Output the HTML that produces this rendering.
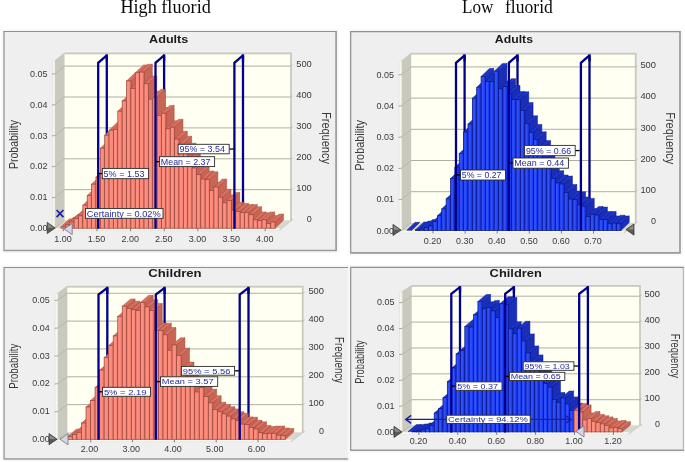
<!DOCTYPE html>
<html lang="en"><head><meta charset="utf-8"><title>Fluoride exposure histograms</title>
<style>
html,body{margin:0;padding:0;background:#fff;}
body{width:685px;height:462px;overflow:hidden;}
svg text{white-space:pre;}
svg{filter:blur(0.35px);}
</style></head><body>
<svg width="685" height="462" viewBox="0 0 685 462" style="display:block">
<rect width="685" height="462" fill="#ffffff"/>
<text x="165.60" y="13.40" font-size="18" text-anchor="middle" fill="#0a0a0a" font-family="'Liberation Serif', 'Times New Roman', serif" textLength="90.4" lengthAdjust="spacingAndGlyphs">High fluorid</text>
<text x="462.10" y="13.40" font-size="18" text-anchor="start" fill="#0a0a0a" font-family="'Liberation Serif', 'Times New Roman', serif" textLength="31.4" lengthAdjust="spacingAndGlyphs">Low</text>
<text x="505.00" y="13.40" font-size="18" text-anchor="start" fill="#0a0a0a" font-family="'Liberation Serif', 'Times New Roman', serif" textLength="47.8" lengthAdjust="spacingAndGlyphs">fluorid</text>
<rect x="1.50" y="29.00" width="337.30" height="224.00" fill="#f8f8f8"/>
<rect x="4.00" y="31.50" width="332.30" height="219.00" fill="#efefef"/>
<line x1="3.50" y1="31.50" x2="336.80" y2="31.50" stroke="#8e8e8e" stroke-width="1.2"/>
<line x1="4.00" y1="31.50" x2="4.00" y2="250.50" stroke="#8e8e8e" stroke-width="1.2"/>
<line x1="3.50" y1="250.50" x2="336.80" y2="250.50" stroke="#9a9a9a" stroke-width="1.6"/>
<line x1="336.10" y1="31.50" x2="336.10" y2="250.50" stroke="#9a9a9a" stroke-width="1.7"/>
<rect x="64.40" y="52.50" width="227.50" height="168.10" fill="#c9c9bd"/>
<rect x="64.40" y="54.30" width="225.70" height="166.30" fill="#fffff2"/>
<polygon points="64.40,52.50 64.40,220.60 55.00,228.30 55.00,60.20" fill="#c9c9bf"/>
<polygon points="55.00,60.20 55.00,228.30 52.30,230.60 52.30,62.50" fill="#f7f7ee" stroke="#d4d4c8" stroke-width="0.4" stroke-linejoin="round"/>
<polygon points="64.40,52.50 55.00,60.20 52.30,62.50 62.50,53.70" fill="#dcdcd2"/>
<polygon points="64.40,220.60 290.70,220.60 281.30,228.30 55.00,228.30" fill="#d6d6cc"/>
<polygon points="55.00,228.30 281.30,228.30 278.60,230.60 52.30,230.60" fill="#fafaf2" stroke="#d8d8cc" stroke-width="0.4" stroke-linejoin="round"/>
<polygon points="290.70,220.60 291.90,220.60 279.80,230.60 278.60,230.60 281.30,228.30" fill="#c6c6ba"/>
<line x1="64.40" y1="220.60" x2="55.00" y2="228.30" stroke="#b4b4a8" stroke-width="0.9"/>
<line x1="55.00" y1="228.30" x2="51.80" y2="228.60" stroke="#a0a096" stroke-width="0.9"/>
<text x="47.50" y="231.21" font-size="9" text-anchor="end" fill="#3a3a3a" font-family="'Liberation Sans', Arial, sans-serif" textLength="17.5" lengthAdjust="spacingAndGlyphs">0.00</text>
<text x="311.80" y="221.80" font-size="9" text-anchor="end" fill="#3a3a3a" font-family="'Liberation Sans', Arial, sans-serif" textLength="5.0" lengthAdjust="spacingAndGlyphs">0</text>
<line x1="290.70" y1="220.60" x2="292.90" y2="219.40" stroke="#b8b8ac" stroke-width="0.8"/>
<line x1="64.40" y1="189.70" x2="290.70" y2="189.70" stroke="#aeaea2" stroke-width="1"/>
<line x1="64.40" y1="189.70" x2="55.00" y2="197.40" stroke="#b4b4a8" stroke-width="0.9"/>
<line x1="55.00" y1="197.40" x2="51.80" y2="197.70" stroke="#a0a096" stroke-width="0.9"/>
<text x="47.50" y="200.31" font-size="9" text-anchor="end" fill="#3a3a3a" font-family="'Liberation Sans', Arial, sans-serif" textLength="17.5" lengthAdjust="spacingAndGlyphs">0.01</text>
<text x="311.80" y="190.90" font-size="9" text-anchor="end" fill="#3a3a3a" font-family="'Liberation Sans', Arial, sans-serif" textLength="15.6" lengthAdjust="spacingAndGlyphs">100</text>
<line x1="290.70" y1="189.70" x2="292.90" y2="188.50" stroke="#b8b8ac" stroke-width="0.8"/>
<line x1="64.40" y1="158.80" x2="290.70" y2="158.80" stroke="#aeaea2" stroke-width="1"/>
<line x1="64.40" y1="158.80" x2="55.00" y2="166.50" stroke="#b4b4a8" stroke-width="0.9"/>
<line x1="55.00" y1="166.50" x2="51.80" y2="166.80" stroke="#a0a096" stroke-width="0.9"/>
<text x="47.50" y="169.41" font-size="9" text-anchor="end" fill="#3a3a3a" font-family="'Liberation Sans', Arial, sans-serif" textLength="17.5" lengthAdjust="spacingAndGlyphs">0.02</text>
<text x="311.80" y="160.00" font-size="9" text-anchor="end" fill="#3a3a3a" font-family="'Liberation Sans', Arial, sans-serif" textLength="15.6" lengthAdjust="spacingAndGlyphs">200</text>
<line x1="290.70" y1="158.80" x2="292.90" y2="157.60" stroke="#b8b8ac" stroke-width="0.8"/>
<line x1="64.40" y1="127.90" x2="290.70" y2="127.90" stroke="#aeaea2" stroke-width="1"/>
<line x1="64.40" y1="127.90" x2="55.00" y2="135.60" stroke="#b4b4a8" stroke-width="0.9"/>
<line x1="55.00" y1="135.60" x2="51.80" y2="135.90" stroke="#a0a096" stroke-width="0.9"/>
<text x="47.50" y="138.51" font-size="9" text-anchor="end" fill="#3a3a3a" font-family="'Liberation Sans', Arial, sans-serif" textLength="17.5" lengthAdjust="spacingAndGlyphs">0.03</text>
<text x="311.80" y="129.10" font-size="9" text-anchor="end" fill="#3a3a3a" font-family="'Liberation Sans', Arial, sans-serif" textLength="15.6" lengthAdjust="spacingAndGlyphs">300</text>
<line x1="290.70" y1="127.90" x2="292.90" y2="126.70" stroke="#b8b8ac" stroke-width="0.8"/>
<line x1="64.40" y1="97.00" x2="290.70" y2="97.00" stroke="#aeaea2" stroke-width="1"/>
<line x1="64.40" y1="97.00" x2="55.00" y2="104.70" stroke="#b4b4a8" stroke-width="0.9"/>
<line x1="55.00" y1="104.70" x2="51.80" y2="105.00" stroke="#a0a096" stroke-width="0.9"/>
<text x="47.50" y="107.61" font-size="9" text-anchor="end" fill="#3a3a3a" font-family="'Liberation Sans', Arial, sans-serif" textLength="17.5" lengthAdjust="spacingAndGlyphs">0.04</text>
<text x="311.80" y="98.20" font-size="9" text-anchor="end" fill="#3a3a3a" font-family="'Liberation Sans', Arial, sans-serif" textLength="15.6" lengthAdjust="spacingAndGlyphs">400</text>
<line x1="290.70" y1="97.00" x2="292.90" y2="95.80" stroke="#b8b8ac" stroke-width="0.8"/>
<line x1="64.40" y1="66.10" x2="290.70" y2="66.10" stroke="#aeaea2" stroke-width="1"/>
<line x1="64.40" y1="66.10" x2="55.00" y2="73.80" stroke="#b4b4a8" stroke-width="0.9"/>
<line x1="55.00" y1="73.80" x2="51.80" y2="74.10" stroke="#a0a096" stroke-width="0.9"/>
<text x="47.50" y="76.71" font-size="9" text-anchor="end" fill="#3a3a3a" font-family="'Liberation Sans', Arial, sans-serif" textLength="17.5" lengthAdjust="spacingAndGlyphs">0.05</text>
<text x="311.80" y="67.30" font-size="9" text-anchor="end" fill="#3a3a3a" font-family="'Liberation Sans', Arial, sans-serif" textLength="15.6" lengthAdjust="spacingAndGlyphs">500</text>
<line x1="290.70" y1="66.10" x2="292.90" y2="64.90" stroke="#b8b8ac" stroke-width="0.8"/>
<line x1="63.30" y1="228.40" x2="63.30" y2="231.20" stroke="#707070" stroke-width="0.9"/>
<text x="62.90" y="241.80" font-size="9" text-anchor="middle" fill="#3a3a3a" font-family="'Liberation Sans', Arial, sans-serif" textLength="17.5" lengthAdjust="spacingAndGlyphs">1.00</text>
<line x1="96.95" y1="228.40" x2="96.95" y2="231.20" stroke="#707070" stroke-width="0.9"/>
<text x="96.55" y="241.80" font-size="9" text-anchor="middle" fill="#3a3a3a" font-family="'Liberation Sans', Arial, sans-serif" textLength="17.5" lengthAdjust="spacingAndGlyphs">1.50</text>
<line x1="130.60" y1="228.40" x2="130.60" y2="231.20" stroke="#707070" stroke-width="0.9"/>
<text x="130.20" y="241.80" font-size="9" text-anchor="middle" fill="#3a3a3a" font-family="'Liberation Sans', Arial, sans-serif" textLength="17.5" lengthAdjust="spacingAndGlyphs">2.00</text>
<line x1="164.25" y1="228.40" x2="164.25" y2="231.20" stroke="#707070" stroke-width="0.9"/>
<text x="163.85" y="241.80" font-size="9" text-anchor="middle" fill="#3a3a3a" font-family="'Liberation Sans', Arial, sans-serif" textLength="17.5" lengthAdjust="spacingAndGlyphs">2.50</text>
<line x1="197.90" y1="228.40" x2="197.90" y2="231.20" stroke="#707070" stroke-width="0.9"/>
<text x="197.50" y="241.80" font-size="9" text-anchor="middle" fill="#3a3a3a" font-family="'Liberation Sans', Arial, sans-serif" textLength="17.5" lengthAdjust="spacingAndGlyphs">3.00</text>
<line x1="231.55" y1="228.40" x2="231.55" y2="231.20" stroke="#707070" stroke-width="0.9"/>
<text x="231.15" y="241.80" font-size="9" text-anchor="middle" fill="#3a3a3a" font-family="'Liberation Sans', Arial, sans-serif" textLength="17.5" lengthAdjust="spacingAndGlyphs">3.50</text>
<line x1="265.20" y1="228.40" x2="265.20" y2="231.20" stroke="#707070" stroke-width="0.9"/>
<text x="264.80" y="241.80" font-size="9" text-anchor="middle" fill="#3a3a3a" font-family="'Liberation Sans', Arial, sans-serif" textLength="17.5" lengthAdjust="spacingAndGlyphs">4.00</text>
<line x1="106.80" y1="55.40" x2="106.80" y2="220.80" stroke="#00008c" stroke-width="2.3"/>
<line x1="164.10" y1="55.40" x2="164.10" y2="220.80" stroke="#00008c" stroke-width="2.3"/>
<line x1="243.00" y1="55.40" x2="243.00" y2="220.80" stroke="#00008c" stroke-width="2.3"/>
<polygon points="65.37,226.80 73.67,218.90 73.67,220.30 65.37,228.20" fill="#c86656" stroke="#9c4a40" stroke-width="0.5" stroke-linejoin="round"/>
<polygon points="61.00,226.80 65.37,226.80 73.67,218.90 69.30,218.90" fill="#d9705f" stroke="#9c4a40" stroke-width="0.45" stroke-linejoin="round"/>
<rect x="61.00" y="226.80" width="4.37" height="1.40" fill="#fa8474" stroke="#9c4a40" stroke-width="0.75"/>
<rect x="61.60" y="227.20" width="1.97" height="0.80" fill="#ffffff" opacity="0.10"/>
<polygon points="69.74,225.00 78.04,217.10 78.04,220.30 69.74,228.20" fill="#c86656" stroke="#9c4a40" stroke-width="0.5" stroke-linejoin="round"/>
<polygon points="65.37,225.00 69.74,225.00 78.04,217.10 73.67,217.10" fill="#d9705f" stroke="#9c4a40" stroke-width="0.45" stroke-linejoin="round"/>
<rect x="65.37" y="225.00" width="4.37" height="3.20" fill="#fa8474" stroke="#9c4a40" stroke-width="0.75"/>
<rect x="65.97" y="225.40" width="1.97" height="2.60" fill="#ffffff" opacity="0.10"/>
<polygon points="74.11,222.00 82.41,214.10 82.41,220.30 74.11,228.20" fill="#c86656" stroke="#9c4a40" stroke-width="0.5" stroke-linejoin="round"/>
<polygon points="69.74,222.00 74.11,222.00 82.41,214.10 78.04,214.10" fill="#d9705f" stroke="#9c4a40" stroke-width="0.45" stroke-linejoin="round"/>
<rect x="69.74" y="222.00" width="4.37" height="6.20" fill="#fa8474" stroke="#9c4a40" stroke-width="0.75"/>
<rect x="70.34" y="222.40" width="1.97" height="5.60" fill="#ffffff" opacity="0.10"/>
<polygon points="78.48,218.50 86.78,210.60 86.78,220.30 78.48,228.20" fill="#c86656" stroke="#9c4a40" stroke-width="0.5" stroke-linejoin="round"/>
<polygon points="74.11,218.50 78.48,218.50 86.78,210.60 82.41,210.60" fill="#d9705f" stroke="#9c4a40" stroke-width="0.45" stroke-linejoin="round"/>
<rect x="74.11" y="218.50" width="4.37" height="9.70" fill="#fa8474" stroke="#9c4a40" stroke-width="0.75"/>
<rect x="74.71" y="218.90" width="1.97" height="9.10" fill="#ffffff" opacity="0.10"/>
<polygon points="82.85,215.80 91.15,207.90 91.15,220.30 82.85,228.20" fill="#c86656" stroke="#9c4a40" stroke-width="0.5" stroke-linejoin="round"/>
<polygon points="78.48,215.80 82.85,215.80 91.15,207.90 86.78,207.90" fill="#d9705f" stroke="#9c4a40" stroke-width="0.45" stroke-linejoin="round"/>
<rect x="78.48" y="215.80" width="4.37" height="12.40" fill="#fa8474" stroke="#9c4a40" stroke-width="0.75"/>
<rect x="79.08" y="216.20" width="1.97" height="11.80" fill="#ffffff" opacity="0.10"/>
<polygon points="87.22,205.20 95.52,197.30 95.52,220.30 87.22,228.20" fill="#c86656" stroke="#9c4a40" stroke-width="0.5" stroke-linejoin="round"/>
<polygon points="82.85,205.20 87.22,205.20 95.52,197.30 91.15,197.30" fill="#d9705f" stroke="#9c4a40" stroke-width="0.45" stroke-linejoin="round"/>
<rect x="82.85" y="205.20" width="4.37" height="23.00" fill="#fa8474" stroke="#9c4a40" stroke-width="0.75"/>
<rect x="83.45" y="205.60" width="1.97" height="22.40" fill="#ffffff" opacity="0.10"/>
<polygon points="91.59,195.60 99.89,187.70 99.89,220.30 91.59,228.20" fill="#c86656" stroke="#9c4a40" stroke-width="0.5" stroke-linejoin="round"/>
<polygon points="87.22,195.60 91.59,195.60 99.89,187.70 95.52,187.70" fill="#d9705f" stroke="#9c4a40" stroke-width="0.45" stroke-linejoin="round"/>
<rect x="87.22" y="195.60" width="4.37" height="32.60" fill="#fa8474" stroke="#9c4a40" stroke-width="0.75"/>
<rect x="87.82" y="196.00" width="1.97" height="32.00" fill="#ffffff" opacity="0.10"/>
<polygon points="95.96,184.20 104.26,176.30 104.26,220.30 95.96,228.20" fill="#c86656" stroke="#9c4a40" stroke-width="0.5" stroke-linejoin="round"/>
<polygon points="91.59,184.20 95.96,184.20 104.26,176.30 99.89,176.30" fill="#d9705f" stroke="#9c4a40" stroke-width="0.45" stroke-linejoin="round"/>
<rect x="91.59" y="184.20" width="4.37" height="44.00" fill="#fa8474" stroke="#9c4a40" stroke-width="0.75"/>
<rect x="92.19" y="184.60" width="1.97" height="43.40" fill="#ffffff" opacity="0.10"/>
<polygon points="100.33,177.20 108.63,169.30 108.63,220.30 100.33,228.20" fill="#c86656" stroke="#9c4a40" stroke-width="0.5" stroke-linejoin="round"/>
<polygon points="95.96,177.20 100.33,177.20 108.63,169.30 104.26,169.30" fill="#d9705f" stroke="#9c4a40" stroke-width="0.45" stroke-linejoin="round"/>
<rect x="95.96" y="177.20" width="4.37" height="51.00" fill="#fa8474" stroke="#9c4a40" stroke-width="0.75"/>
<rect x="96.56" y="177.60" width="1.97" height="50.40" fill="#ffffff" opacity="0.10"/>
<polygon points="104.70,148.20 113.00,140.30 113.00,220.30 104.70,228.20" fill="#c86656" stroke="#9c4a40" stroke-width="0.5" stroke-linejoin="round"/>
<polygon points="100.33,148.20 104.70,148.20 113.00,140.30 108.63,140.30" fill="#d9705f" stroke="#9c4a40" stroke-width="0.45" stroke-linejoin="round"/>
<rect x="100.33" y="148.20" width="4.37" height="80.00" fill="#fa8474" stroke="#9c4a40" stroke-width="0.75"/>
<rect x="100.93" y="148.60" width="1.97" height="79.40" fill="#ffffff" opacity="0.10"/>
<polygon points="109.07,135.20 117.37,127.30 117.37,220.30 109.07,228.20" fill="#c86656" stroke="#9c4a40" stroke-width="0.5" stroke-linejoin="round"/>
<polygon points="104.70,135.20 109.07,135.20 117.37,127.30 113.00,127.30" fill="#d9705f" stroke="#9c4a40" stroke-width="0.45" stroke-linejoin="round"/>
<rect x="104.70" y="135.20" width="4.37" height="93.00" fill="#fa8474" stroke="#9c4a40" stroke-width="0.75"/>
<rect x="105.30" y="135.60" width="1.97" height="92.40" fill="#ffffff" opacity="0.10"/>
<polygon points="113.44,130.20 121.74,122.30 121.74,220.30 113.44,228.20" fill="#c86656" stroke="#9c4a40" stroke-width="0.5" stroke-linejoin="round"/>
<polygon points="109.07,130.20 113.44,130.20 121.74,122.30 117.37,122.30" fill="#d9705f" stroke="#9c4a40" stroke-width="0.45" stroke-linejoin="round"/>
<rect x="109.07" y="130.20" width="4.37" height="98.00" fill="#fa8474" stroke="#9c4a40" stroke-width="0.75"/>
<rect x="109.67" y="130.60" width="1.97" height="97.40" fill="#ffffff" opacity="0.10"/>
<polygon points="117.81,129.40 126.11,121.50 126.11,220.30 117.81,228.20" fill="#c86656" stroke="#9c4a40" stroke-width="0.5" stroke-linejoin="round"/>
<polygon points="113.44,129.40 117.81,129.40 126.11,121.50 121.74,121.50" fill="#d9705f" stroke="#9c4a40" stroke-width="0.45" stroke-linejoin="round"/>
<rect x="113.44" y="129.40" width="4.37" height="98.80" fill="#fa8474" stroke="#9c4a40" stroke-width="0.75"/>
<rect x="114.04" y="129.80" width="1.97" height="98.20" fill="#ffffff" opacity="0.10"/>
<polygon points="122.18,111.20 130.48,103.30 130.48,220.30 122.18,228.20" fill="#c86656" stroke="#9c4a40" stroke-width="0.5" stroke-linejoin="round"/>
<polygon points="117.81,111.20 122.18,111.20 130.48,103.30 126.11,103.30" fill="#d9705f" stroke="#9c4a40" stroke-width="0.45" stroke-linejoin="round"/>
<rect x="117.81" y="111.20" width="4.37" height="117.00" fill="#fa8474" stroke="#9c4a40" stroke-width="0.75"/>
<rect x="118.41" y="111.60" width="1.97" height="116.40" fill="#ffffff" opacity="0.10"/>
<polygon points="126.55,100.90 134.85,93.00 134.85,220.30 126.55,228.20" fill="#c86656" stroke="#9c4a40" stroke-width="0.5" stroke-linejoin="round"/>
<polygon points="122.18,100.90 126.55,100.90 134.85,93.00 130.48,93.00" fill="#d9705f" stroke="#9c4a40" stroke-width="0.45" stroke-linejoin="round"/>
<rect x="122.18" y="100.90" width="4.37" height="127.30" fill="#fa8474" stroke="#9c4a40" stroke-width="0.75"/>
<rect x="122.78" y="101.30" width="1.97" height="126.70" fill="#ffffff" opacity="0.10"/>
<polygon points="130.92,80.90 139.22,73.00 139.22,220.30 130.92,228.20" fill="#c86656" stroke="#9c4a40" stroke-width="0.5" stroke-linejoin="round"/>
<polygon points="126.55,80.90 130.92,80.90 139.22,73.00 134.85,73.00" fill="#d9705f" stroke="#9c4a40" stroke-width="0.45" stroke-linejoin="round"/>
<rect x="126.55" y="80.90" width="4.37" height="147.30" fill="#fa8474" stroke="#9c4a40" stroke-width="0.75"/>
<rect x="127.15" y="81.30" width="1.97" height="146.70" fill="#ffffff" opacity="0.10"/>
<polygon points="135.29,88.40 143.59,80.50 143.59,220.30 135.29,228.20" fill="#c86656" stroke="#9c4a40" stroke-width="0.5" stroke-linejoin="round"/>
<polygon points="130.92,88.40 135.29,88.40 143.59,80.50 139.22,80.50" fill="#d9705f" stroke="#9c4a40" stroke-width="0.45" stroke-linejoin="round"/>
<rect x="130.92" y="88.40" width="4.37" height="139.80" fill="#fa8474" stroke="#9c4a40" stroke-width="0.75"/>
<rect x="131.52" y="88.80" width="1.97" height="139.20" fill="#ffffff" opacity="0.10"/>
<polygon points="139.66,72.80 147.96,64.90 147.96,220.30 139.66,228.20" fill="#c86656" stroke="#9c4a40" stroke-width="0.5" stroke-linejoin="round"/>
<polygon points="135.29,72.80 139.66,72.80 147.96,64.90 143.59,64.90" fill="#d9705f" stroke="#9c4a40" stroke-width="0.45" stroke-linejoin="round"/>
<rect x="135.29" y="72.80" width="4.37" height="155.40" fill="#fa8474" stroke="#9c4a40" stroke-width="0.75"/>
<rect x="135.89" y="73.20" width="1.97" height="154.80" fill="#ffffff" opacity="0.10"/>
<polygon points="144.03,72.10 152.33,64.20 152.33,220.30 144.03,228.20" fill="#c86656" stroke="#9c4a40" stroke-width="0.5" stroke-linejoin="round"/>
<polygon points="139.66,72.10 144.03,72.10 152.33,64.20 147.96,64.20" fill="#d9705f" stroke="#9c4a40" stroke-width="0.45" stroke-linejoin="round"/>
<rect x="139.66" y="72.10" width="4.37" height="156.10" fill="#fa8474" stroke="#9c4a40" stroke-width="0.75"/>
<rect x="140.26" y="72.50" width="1.97" height="155.50" fill="#ffffff" opacity="0.10"/>
<polygon points="148.40,83.80 156.70,75.90 156.70,220.30 148.40,228.20" fill="#c86656" stroke="#9c4a40" stroke-width="0.5" stroke-linejoin="round"/>
<polygon points="144.03,83.80 148.40,83.80 156.70,75.90 152.33,75.90" fill="#d9705f" stroke="#9c4a40" stroke-width="0.45" stroke-linejoin="round"/>
<rect x="144.03" y="83.80" width="4.37" height="144.40" fill="#fa8474" stroke="#9c4a40" stroke-width="0.75"/>
<rect x="144.63" y="84.20" width="1.97" height="143.80" fill="#ffffff" opacity="0.10"/>
<polygon points="152.77,99.10 161.07,91.20 161.07,220.30 152.77,228.20" fill="#c86656" stroke="#9c4a40" stroke-width="0.5" stroke-linejoin="round"/>
<polygon points="148.40,99.10 152.77,99.10 161.07,91.20 156.70,91.20" fill="#d9705f" stroke="#9c4a40" stroke-width="0.45" stroke-linejoin="round"/>
<rect x="148.40" y="99.10" width="4.37" height="129.10" fill="#fa8474" stroke="#9c4a40" stroke-width="0.75"/>
<rect x="149.00" y="99.50" width="1.97" height="128.50" fill="#ffffff" opacity="0.10"/>
<polygon points="157.14,97.20 165.44,89.30 165.44,220.30 157.14,228.20" fill="#c86656" stroke="#9c4a40" stroke-width="0.5" stroke-linejoin="round"/>
<polygon points="152.77,97.20 157.14,97.20 165.44,89.30 161.07,89.30" fill="#d9705f" stroke="#9c4a40" stroke-width="0.45" stroke-linejoin="round"/>
<rect x="152.77" y="97.20" width="4.37" height="131.00" fill="#fa8474" stroke="#9c4a40" stroke-width="0.75"/>
<rect x="153.37" y="97.60" width="1.97" height="130.40" fill="#ffffff" opacity="0.10"/>
<polygon points="161.51,115.50 169.81,107.60 169.81,220.30 161.51,228.20" fill="#c86656" stroke="#9c4a40" stroke-width="0.5" stroke-linejoin="round"/>
<polygon points="157.14,115.50 161.51,115.50 169.81,107.60 165.44,107.60" fill="#d9705f" stroke="#9c4a40" stroke-width="0.45" stroke-linejoin="round"/>
<rect x="157.14" y="115.50" width="4.37" height="112.70" fill="#fa8474" stroke="#9c4a40" stroke-width="0.75"/>
<rect x="157.74" y="115.90" width="1.97" height="112.10" fill="#ffffff" opacity="0.10"/>
<polygon points="165.88,113.30 174.18,105.40 174.18,220.30 165.88,228.20" fill="#c86656" stroke="#9c4a40" stroke-width="0.5" stroke-linejoin="round"/>
<polygon points="161.51,113.30 165.88,113.30 174.18,105.40 169.81,105.40" fill="#d9705f" stroke="#9c4a40" stroke-width="0.45" stroke-linejoin="round"/>
<rect x="161.51" y="113.30" width="4.37" height="114.90" fill="#fa8474" stroke="#9c4a40" stroke-width="0.75"/>
<rect x="162.11" y="113.70" width="1.97" height="114.30" fill="#ffffff" opacity="0.10"/>
<polygon points="170.25,128.70 178.55,120.80 178.55,220.30 170.25,228.20" fill="#c86656" stroke="#9c4a40" stroke-width="0.5" stroke-linejoin="round"/>
<polygon points="165.88,128.70 170.25,128.70 178.55,120.80 174.18,120.80" fill="#d9705f" stroke="#9c4a40" stroke-width="0.45" stroke-linejoin="round"/>
<rect x="165.88" y="128.70" width="4.37" height="99.50" fill="#fa8474" stroke="#9c4a40" stroke-width="0.75"/>
<rect x="166.48" y="129.10" width="1.97" height="98.90" fill="#ffffff" opacity="0.10"/>
<polygon points="174.62,127.20 182.92,119.30 182.92,220.30 174.62,228.20" fill="#c86656" stroke="#9c4a40" stroke-width="0.5" stroke-linejoin="round"/>
<polygon points="170.25,127.20 174.62,127.20 182.92,119.30 178.55,119.30" fill="#d9705f" stroke="#9c4a40" stroke-width="0.45" stroke-linejoin="round"/>
<rect x="170.25" y="127.20" width="4.37" height="101.00" fill="#fa8474" stroke="#9c4a40" stroke-width="0.75"/>
<rect x="170.85" y="127.60" width="1.97" height="100.40" fill="#ffffff" opacity="0.10"/>
<polygon points="178.99,139.20 187.29,131.30 187.29,220.30 178.99,228.20" fill="#c86656" stroke="#9c4a40" stroke-width="0.5" stroke-linejoin="round"/>
<polygon points="174.62,139.20 178.99,139.20 187.29,131.30 182.92,131.30" fill="#d9705f" stroke="#9c4a40" stroke-width="0.45" stroke-linejoin="round"/>
<rect x="174.62" y="139.20" width="4.37" height="89.00" fill="#fa8474" stroke="#9c4a40" stroke-width="0.75"/>
<rect x="175.22" y="139.60" width="1.97" height="88.40" fill="#ffffff" opacity="0.10"/>
<polygon points="183.36,144.20 191.66,136.30 191.66,220.30 183.36,228.20" fill="#c86656" stroke="#9c4a40" stroke-width="0.5" stroke-linejoin="round"/>
<polygon points="178.99,144.20 183.36,144.20 191.66,136.30 187.29,136.30" fill="#d9705f" stroke="#9c4a40" stroke-width="0.45" stroke-linejoin="round"/>
<rect x="178.99" y="144.20" width="4.37" height="84.00" fill="#fa8474" stroke="#9c4a40" stroke-width="0.75"/>
<rect x="179.59" y="144.60" width="1.97" height="83.40" fill="#ffffff" opacity="0.10"/>
<polygon points="187.73,151.20 196.03,143.30 196.03,220.30 187.73,228.20" fill="#c86656" stroke="#9c4a40" stroke-width="0.5" stroke-linejoin="round"/>
<polygon points="183.36,151.20 187.73,151.20 196.03,143.30 191.66,143.30" fill="#d9705f" stroke="#9c4a40" stroke-width="0.45" stroke-linejoin="round"/>
<rect x="183.36" y="151.20" width="4.37" height="77.00" fill="#fa8474" stroke="#9c4a40" stroke-width="0.75"/>
<rect x="183.96" y="151.60" width="1.97" height="76.40" fill="#ffffff" opacity="0.10"/>
<polygon points="192.10,160.20 200.40,152.30 200.40,220.30 192.10,228.20" fill="#c86656" stroke="#9c4a40" stroke-width="0.5" stroke-linejoin="round"/>
<polygon points="187.73,160.20 192.10,160.20 200.40,152.30 196.03,152.30" fill="#d9705f" stroke="#9c4a40" stroke-width="0.45" stroke-linejoin="round"/>
<rect x="187.73" y="160.20" width="4.37" height="68.00" fill="#fa8474" stroke="#9c4a40" stroke-width="0.75"/>
<rect x="188.33" y="160.60" width="1.97" height="67.40" fill="#ffffff" opacity="0.10"/>
<polygon points="196.47,168.00 204.77,160.10 204.77,220.30 196.47,228.20" fill="#c86656" stroke="#9c4a40" stroke-width="0.5" stroke-linejoin="round"/>
<polygon points="192.10,168.00 196.47,168.00 204.77,160.10 200.40,160.10" fill="#d9705f" stroke="#9c4a40" stroke-width="0.45" stroke-linejoin="round"/>
<rect x="192.10" y="168.00" width="4.37" height="60.20" fill="#fa8474" stroke="#9c4a40" stroke-width="0.75"/>
<rect x="192.70" y="168.40" width="1.97" height="59.60" fill="#ffffff" opacity="0.10"/>
<polygon points="200.84,174.60 209.14,166.70 209.14,220.30 200.84,228.20" fill="#c86656" stroke="#9c4a40" stroke-width="0.5" stroke-linejoin="round"/>
<polygon points="196.47,174.60 200.84,174.60 209.14,166.70 204.77,166.70" fill="#d9705f" stroke="#9c4a40" stroke-width="0.45" stroke-linejoin="round"/>
<rect x="196.47" y="174.60" width="4.37" height="53.60" fill="#fa8474" stroke="#9c4a40" stroke-width="0.75"/>
<rect x="197.07" y="175.00" width="1.97" height="53.00" fill="#ffffff" opacity="0.10"/>
<polygon points="205.21,179.00 213.51,171.10 213.51,220.30 205.21,228.20" fill="#c86656" stroke="#9c4a40" stroke-width="0.5" stroke-linejoin="round"/>
<polygon points="200.84,179.00 205.21,179.00 213.51,171.10 209.14,171.10" fill="#d9705f" stroke="#9c4a40" stroke-width="0.45" stroke-linejoin="round"/>
<rect x="200.84" y="179.00" width="4.37" height="49.20" fill="#fa8474" stroke="#9c4a40" stroke-width="0.75"/>
<rect x="201.44" y="179.40" width="1.97" height="48.60" fill="#ffffff" opacity="0.10"/>
<polygon points="209.58,179.70 217.88,171.80 217.88,220.30 209.58,228.20" fill="#c86656" stroke="#9c4a40" stroke-width="0.5" stroke-linejoin="round"/>
<polygon points="205.21,179.70 209.58,179.70 217.88,171.80 213.51,171.80" fill="#d9705f" stroke="#9c4a40" stroke-width="0.45" stroke-linejoin="round"/>
<rect x="205.21" y="179.70" width="4.37" height="48.50" fill="#fa8474" stroke="#9c4a40" stroke-width="0.75"/>
<rect x="205.81" y="180.10" width="1.97" height="47.90" fill="#ffffff" opacity="0.10"/>
<polygon points="213.95,190.60 222.25,182.70 222.25,220.30 213.95,228.20" fill="#c86656" stroke="#9c4a40" stroke-width="0.5" stroke-linejoin="round"/>
<polygon points="209.58,190.60 213.95,190.60 222.25,182.70 217.88,182.70" fill="#d9705f" stroke="#9c4a40" stroke-width="0.45" stroke-linejoin="round"/>
<rect x="209.58" y="190.60" width="4.37" height="37.60" fill="#fa8474" stroke="#9c4a40" stroke-width="0.75"/>
<rect x="210.18" y="191.00" width="1.97" height="37.00" fill="#ffffff" opacity="0.10"/>
<polygon points="218.32,187.00 226.62,179.10 226.62,220.30 218.32,228.20" fill="#c86656" stroke="#9c4a40" stroke-width="0.5" stroke-linejoin="round"/>
<polygon points="213.95,187.00 218.32,187.00 226.62,179.10 222.25,179.10" fill="#d9705f" stroke="#9c4a40" stroke-width="0.45" stroke-linejoin="round"/>
<rect x="213.95" y="187.00" width="4.37" height="41.20" fill="#fa8474" stroke="#9c4a40" stroke-width="0.75"/>
<rect x="214.55" y="187.40" width="1.97" height="40.60" fill="#ffffff" opacity="0.10"/>
<polygon points="222.69,197.20 230.99,189.30 230.99,220.30 222.69,228.20" fill="#c86656" stroke="#9c4a40" stroke-width="0.5" stroke-linejoin="round"/>
<polygon points="218.32,197.20 222.69,197.20 230.99,189.30 226.62,189.30" fill="#d9705f" stroke="#9c4a40" stroke-width="0.45" stroke-linejoin="round"/>
<rect x="218.32" y="197.20" width="4.37" height="31.00" fill="#fa8474" stroke="#9c4a40" stroke-width="0.75"/>
<rect x="218.92" y="197.60" width="1.97" height="30.40" fill="#ffffff" opacity="0.10"/>
<polygon points="227.06,202.80 235.36,194.90 235.36,220.30 227.06,228.20" fill="#c86656" stroke="#9c4a40" stroke-width="0.5" stroke-linejoin="round"/>
<polygon points="222.69,202.80 227.06,202.80 235.36,194.90 230.99,194.90" fill="#d9705f" stroke="#9c4a40" stroke-width="0.45" stroke-linejoin="round"/>
<rect x="222.69" y="202.80" width="4.37" height="25.40" fill="#fa8474" stroke="#9c4a40" stroke-width="0.75"/>
<rect x="223.29" y="203.20" width="1.97" height="24.80" fill="#ffffff" opacity="0.10"/>
<polygon points="231.43,200.40 239.73,192.50 239.73,220.30 231.43,228.20" fill="#c86656" stroke="#9c4a40" stroke-width="0.5" stroke-linejoin="round"/>
<polygon points="227.06,200.40 231.43,200.40 239.73,192.50 235.36,192.50" fill="#d9705f" stroke="#9c4a40" stroke-width="0.45" stroke-linejoin="round"/>
<rect x="227.06" y="200.40" width="4.37" height="27.80" fill="#fa8474" stroke="#9c4a40" stroke-width="0.75"/>
<rect x="227.66" y="200.80" width="1.97" height="27.20" fill="#ffffff" opacity="0.10"/>
<polygon points="235.80,210.20 244.10,202.30 244.10,220.30 235.80,228.20" fill="#c86656" stroke="#9c4a40" stroke-width="0.5" stroke-linejoin="round"/>
<polygon points="231.43,210.20 235.80,210.20 244.10,202.30 239.73,202.30" fill="#d9705f" stroke="#9c4a40" stroke-width="0.45" stroke-linejoin="round"/>
<rect x="231.43" y="210.20" width="4.37" height="18.00" fill="#fa8474" stroke="#9c4a40" stroke-width="0.75"/>
<rect x="232.03" y="210.60" width="1.97" height="17.40" fill="#ffffff" opacity="0.10"/>
<polygon points="240.17,211.50 248.47,203.60 248.47,220.30 240.17,228.20" fill="#c86656" stroke="#9c4a40" stroke-width="0.5" stroke-linejoin="round"/>
<polygon points="235.80,211.50 240.17,211.50 248.47,203.60 244.10,203.60" fill="#d9705f" stroke="#9c4a40" stroke-width="0.45" stroke-linejoin="round"/>
<rect x="235.80" y="211.50" width="4.37" height="16.70" fill="#fa8474" stroke="#9c4a40" stroke-width="0.75"/>
<rect x="236.40" y="211.90" width="1.97" height="16.10" fill="#ffffff" opacity="0.10"/>
<polygon points="244.54,212.50 252.84,204.60 252.84,220.30 244.54,228.20" fill="#c86656" stroke="#9c4a40" stroke-width="0.5" stroke-linejoin="round"/>
<polygon points="240.17,212.50 244.54,212.50 252.84,204.60 248.47,204.60" fill="#d9705f" stroke="#9c4a40" stroke-width="0.45" stroke-linejoin="round"/>
<rect x="240.17" y="212.50" width="4.37" height="15.70" fill="#fa8474" stroke="#9c4a40" stroke-width="0.75"/>
<rect x="240.77" y="212.90" width="1.97" height="15.10" fill="#ffffff" opacity="0.10"/>
<polygon points="248.91,212.50 257.21,204.60 257.21,220.30 248.91,228.20" fill="#c86656" stroke="#9c4a40" stroke-width="0.5" stroke-linejoin="round"/>
<polygon points="244.54,212.50 248.91,212.50 257.21,204.60 252.84,204.60" fill="#d9705f" stroke="#9c4a40" stroke-width="0.45" stroke-linejoin="round"/>
<rect x="244.54" y="212.50" width="4.37" height="15.70" fill="#fa8474" stroke="#9c4a40" stroke-width="0.75"/>
<rect x="245.14" y="212.90" width="1.97" height="15.10" fill="#ffffff" opacity="0.10"/>
<polygon points="253.28,214.70 261.58,206.80 261.58,220.30 253.28,228.20" fill="#c86656" stroke="#9c4a40" stroke-width="0.5" stroke-linejoin="round"/>
<polygon points="248.91,214.70 253.28,214.70 261.58,206.80 257.21,206.80" fill="#d9705f" stroke="#9c4a40" stroke-width="0.45" stroke-linejoin="round"/>
<rect x="248.91" y="214.70" width="4.37" height="13.50" fill="#fa8474" stroke="#9c4a40" stroke-width="0.75"/>
<rect x="249.51" y="215.10" width="1.97" height="12.90" fill="#ffffff" opacity="0.10"/>
<polygon points="257.65,219.80 265.95,211.90 265.95,220.30 257.65,228.20" fill="#c86656" stroke="#9c4a40" stroke-width="0.5" stroke-linejoin="round"/>
<polygon points="253.28,219.80 257.65,219.80 265.95,211.90 261.58,211.90" fill="#d9705f" stroke="#9c4a40" stroke-width="0.45" stroke-linejoin="round"/>
<rect x="253.28" y="219.80" width="4.37" height="8.40" fill="#fa8474" stroke="#9c4a40" stroke-width="0.75"/>
<rect x="253.88" y="220.20" width="1.97" height="7.80" fill="#ffffff" opacity="0.10"/>
<polygon points="262.02,220.60 270.32,212.70 270.32,220.30 262.02,228.20" fill="#c86656" stroke="#9c4a40" stroke-width="0.5" stroke-linejoin="round"/>
<polygon points="257.65,220.60 262.02,220.60 270.32,212.70 265.95,212.70" fill="#d9705f" stroke="#9c4a40" stroke-width="0.45" stroke-linejoin="round"/>
<rect x="257.65" y="220.60" width="4.37" height="7.60" fill="#fa8474" stroke="#9c4a40" stroke-width="0.75"/>
<rect x="258.25" y="221.00" width="1.97" height="7.00" fill="#ffffff" opacity="0.10"/>
<polygon points="266.39,219.80 274.69,211.90 274.69,220.30 266.39,228.20" fill="#c86656" stroke="#9c4a40" stroke-width="0.5" stroke-linejoin="round"/>
<polygon points="262.02,219.80 266.39,219.80 274.69,211.90 270.32,211.90" fill="#d9705f" stroke="#9c4a40" stroke-width="0.45" stroke-linejoin="round"/>
<rect x="262.02" y="219.80" width="4.37" height="8.40" fill="#fa8474" stroke="#9c4a40" stroke-width="0.75"/>
<rect x="262.62" y="220.20" width="1.97" height="7.80" fill="#ffffff" opacity="0.10"/>
<polygon points="270.76,223.50 279.06,215.60 279.06,220.30 270.76,228.20" fill="#c86656" stroke="#9c4a40" stroke-width="0.5" stroke-linejoin="round"/>
<polygon points="266.39,223.50 270.76,223.50 279.06,215.60 274.69,215.60" fill="#d9705f" stroke="#9c4a40" stroke-width="0.45" stroke-linejoin="round"/>
<rect x="266.39" y="223.50" width="4.37" height="4.70" fill="#fa8474" stroke="#9c4a40" stroke-width="0.75"/>
<rect x="266.99" y="223.90" width="1.97" height="4.10" fill="#ffffff" opacity="0.10"/>
<polygon points="275.13,222.00 283.43,214.10 283.43,220.30 275.13,228.20" fill="#c86656" stroke="#9c4a40" stroke-width="0.5" stroke-linejoin="round"/>
<polygon points="270.76,222.00 275.13,222.00 283.43,214.10 279.06,214.10" fill="#d9705f" stroke="#9c4a40" stroke-width="0.45" stroke-linejoin="round"/>
<rect x="270.76" y="222.00" width="4.37" height="6.20" fill="#fa8474" stroke="#9c4a40" stroke-width="0.75"/>
<rect x="271.36" y="222.40" width="1.97" height="5.60" fill="#ffffff" opacity="0.10"/>
<polyline points="98.20,228.70 98.20,62.80 106.80,55.40" fill="none" stroke="#00008c" stroke-width="2.3" stroke-linejoin="miter"/>
<line x1="106.80" y1="54.30" x2="106.80" y2="61.40" stroke="#00008c" stroke-width="2.3"/>
<polyline points="155.50,228.70 155.50,62.80 164.10,55.40" fill="none" stroke="#00008c" stroke-width="2.3" stroke-linejoin="miter"/>
<line x1="164.10" y1="54.30" x2="164.10" y2="61.40" stroke="#00008c" stroke-width="2.3"/>
<polyline points="234.40,228.70 234.40,62.80 243.00,55.40" fill="none" stroke="#00008c" stroke-width="2.3" stroke-linejoin="miter"/>
<line x1="243.00" y1="54.30" x2="243.00" y2="61.40" stroke="#00008c" stroke-width="2.3"/>
<line x1="97.80" y1="173.55" x2="102.30" y2="173.55" stroke="#000000" stroke-width="1.3"/>
<rect x="102.30" y="168.40" width="46.30" height="10.30" fill="#ffffff" stroke="#2a2a2a" stroke-width="0.9"/>
<text x="103.60" y="176.60" font-size="8.6" text-anchor="start" fill="#262c94" font-family="'Liberation Sans', Arial, sans-serif" textLength="40.9" lengthAdjust="spacingAndGlyphs">5% = 1.53</text>
<line x1="229.20" y1="149.05" x2="233.70" y2="149.05" stroke="#000000" stroke-width="1.3"/>
<rect x="178.10" y="144.30" width="51.10" height="9.50" fill="#ffffff" stroke="#2a2a2a" stroke-width="0.9"/>
<text x="179.40" y="152.10" font-size="8.6" text-anchor="start" fill="#262c94" font-family="'Liberation Sans', Arial, sans-serif" textLength="45.7" lengthAdjust="spacingAndGlyphs">95% = 3.54</text>
<line x1="155.00" y1="161.65" x2="159.50" y2="161.65" stroke="#000000" stroke-width="1.3"/>
<rect x="159.50" y="156.70" width="55.10" height="9.90" fill="#ffffff" stroke="#2a2a2a" stroke-width="0.9"/>
<text x="160.80" y="164.70" font-size="8.6" text-anchor="start" fill="#262c94" font-family="'Liberation Sans', Arial, sans-serif" textLength="49.7" lengthAdjust="spacingAndGlyphs">Mean = 2.37</text>
<rect x="85.50" y="208.60" width="77.50" height="9.70" fill="#ffffff" stroke="#2a2a2a" stroke-width="0.9"/>
<text x="86.80" y="216.50" font-size="8.6" text-anchor="start" fill="#262c94" font-family="'Liberation Sans', Arial, sans-serif" textLength="73.9" lengthAdjust="spacingAndGlyphs">Certainty = 0.02%</text>
<text x="168.70" y="43.00" font-size="10.6" text-anchor="middle" fill="#1a1a1a" font-family="'Liberation Sans', Arial, sans-serif" font-weight="bold" textLength="39.3" lengthAdjust="spacingAndGlyphs">Adults</text>
<text x="18.20" y="144.50" font-size="12" text-anchor="middle" fill="#3a3a3a" font-family="'Liberation Sans', Arial, sans-serif" textLength="49.0" lengthAdjust="spacingAndGlyphs" transform="rotate(-90 18.20 144.50)">Probability</text>
<text x="322.40" y="138.00" font-size="12" text-anchor="middle" fill="#3a3a3a" font-family="'Liberation Sans', Arial, sans-serif" textLength="52.0" lengthAdjust="spacingAndGlyphs" transform="rotate(90 322.40 138.00)">Frequency</text>
<polygon points="47.20,222.40 55.20,228.00 47.20,233.60" fill="#5a5a5a" stroke="#2e2e2e" stroke-width="0.7" stroke-linejoin="round"/>
<polygon points="47.80,223.60 53.80,227.80 47.80,227.80" fill="#8c8c8c"/>
<polygon points="72.20,223.40 64.20,229.00 72.20,234.60" fill="#d6d6ea" stroke="#70707c" stroke-width="0.8" stroke-linejoin="round"/>
<path d="M56.6 210 L63.4 217.2 M63.4 210 L56.6 217.2" stroke="#1c1ca8" stroke-width="1.7" fill="none"/>
<rect x="348.20" y="29.10" width="334.50" height="226.30" fill="#f8f8f8"/>
<rect x="350.70" y="31.60" width="329.50" height="221.30" fill="#efefef"/>
<line x1="350.20" y1="31.60" x2="680.70" y2="31.60" stroke="#8e8e8e" stroke-width="1.2"/>
<line x1="350.70" y1="31.60" x2="350.70" y2="252.90" stroke="#8e8e8e" stroke-width="1.2"/>
<line x1="350.20" y1="252.90" x2="680.70" y2="252.90" stroke="#9a9a9a" stroke-width="1.6"/>
<line x1="680.00" y1="31.60" x2="680.00" y2="252.90" stroke="#9a9a9a" stroke-width="1.7"/>
<rect x="411.10" y="52.80" width="225.50" height="170.10" fill="#c9c9bd"/>
<rect x="411.10" y="54.60" width="223.70" height="168.30" fill="#fffff2"/>
<polygon points="411.10,52.80 411.10,222.90 401.70,230.60 401.70,60.50" fill="#c9c9bf"/>
<polygon points="401.70,60.50 401.70,230.60 399.00,232.90 399.00,62.80" fill="#f7f7ee" stroke="#d4d4c8" stroke-width="0.4" stroke-linejoin="round"/>
<polygon points="411.10,52.80 401.70,60.50 399.00,62.80 409.20,54.00" fill="#dcdcd2"/>
<polygon points="411.10,222.90 635.40,222.90 626.00,230.60 401.70,230.60" fill="#d6d6cc"/>
<polygon points="401.70,230.60 626.00,230.60 623.30,232.90 399.00,232.90" fill="#fafaf2" stroke="#d8d8cc" stroke-width="0.4" stroke-linejoin="round"/>
<polygon points="635.40,222.90 636.60,222.90 624.50,232.90 623.30,232.90 626.00,230.60" fill="#c6c6ba"/>
<line x1="411.10" y1="222.90" x2="401.70" y2="230.60" stroke="#b4b4a8" stroke-width="0.9"/>
<line x1="401.70" y1="230.60" x2="398.50" y2="230.90" stroke="#a0a096" stroke-width="0.9"/>
<text x="394.00" y="233.51" font-size="9" text-anchor="end" fill="#3a3a3a" font-family="'Liberation Sans', Arial, sans-serif" textLength="17.5" lengthAdjust="spacingAndGlyphs">0.00</text>
<text x="656.00" y="224.10" font-size="9" text-anchor="end" fill="#3a3a3a" font-family="'Liberation Sans', Arial, sans-serif" textLength="5.0" lengthAdjust="spacingAndGlyphs">0</text>
<line x1="635.40" y1="222.90" x2="637.60" y2="221.70" stroke="#b8b8ac" stroke-width="0.8"/>
<line x1="411.10" y1="191.70" x2="635.40" y2="191.70" stroke="#aeaea2" stroke-width="1"/>
<line x1="411.10" y1="191.70" x2="401.70" y2="199.40" stroke="#b4b4a8" stroke-width="0.9"/>
<line x1="401.70" y1="199.40" x2="398.50" y2="199.70" stroke="#a0a096" stroke-width="0.9"/>
<text x="394.00" y="202.31" font-size="9" text-anchor="end" fill="#3a3a3a" font-family="'Liberation Sans', Arial, sans-serif" textLength="17.5" lengthAdjust="spacingAndGlyphs">0.01</text>
<text x="656.00" y="192.90" font-size="9" text-anchor="end" fill="#3a3a3a" font-family="'Liberation Sans', Arial, sans-serif" textLength="15.6" lengthAdjust="spacingAndGlyphs">100</text>
<line x1="635.40" y1="191.70" x2="637.60" y2="190.50" stroke="#b8b8ac" stroke-width="0.8"/>
<line x1="411.10" y1="160.50" x2="635.40" y2="160.50" stroke="#aeaea2" stroke-width="1"/>
<line x1="411.10" y1="160.50" x2="401.70" y2="168.20" stroke="#b4b4a8" stroke-width="0.9"/>
<line x1="401.70" y1="168.20" x2="398.50" y2="168.50" stroke="#a0a096" stroke-width="0.9"/>
<text x="394.00" y="171.11" font-size="9" text-anchor="end" fill="#3a3a3a" font-family="'Liberation Sans', Arial, sans-serif" textLength="17.5" lengthAdjust="spacingAndGlyphs">0.02</text>
<text x="656.00" y="161.70" font-size="9" text-anchor="end" fill="#3a3a3a" font-family="'Liberation Sans', Arial, sans-serif" textLength="15.6" lengthAdjust="spacingAndGlyphs">200</text>
<line x1="635.40" y1="160.50" x2="637.60" y2="159.30" stroke="#b8b8ac" stroke-width="0.8"/>
<line x1="411.10" y1="129.30" x2="635.40" y2="129.30" stroke="#aeaea2" stroke-width="1"/>
<line x1="411.10" y1="129.30" x2="401.70" y2="137.00" stroke="#b4b4a8" stroke-width="0.9"/>
<line x1="401.70" y1="137.00" x2="398.50" y2="137.30" stroke="#a0a096" stroke-width="0.9"/>
<text x="394.00" y="139.91" font-size="9" text-anchor="end" fill="#3a3a3a" font-family="'Liberation Sans', Arial, sans-serif" textLength="17.5" lengthAdjust="spacingAndGlyphs">0.03</text>
<text x="656.00" y="130.50" font-size="9" text-anchor="end" fill="#3a3a3a" font-family="'Liberation Sans', Arial, sans-serif" textLength="15.6" lengthAdjust="spacingAndGlyphs">300</text>
<line x1="635.40" y1="129.30" x2="637.60" y2="128.10" stroke="#b8b8ac" stroke-width="0.8"/>
<line x1="411.10" y1="98.10" x2="635.40" y2="98.10" stroke="#aeaea2" stroke-width="1"/>
<line x1="411.10" y1="98.10" x2="401.70" y2="105.80" stroke="#b4b4a8" stroke-width="0.9"/>
<line x1="401.70" y1="105.80" x2="398.50" y2="106.10" stroke="#a0a096" stroke-width="0.9"/>
<text x="394.00" y="108.72" font-size="9" text-anchor="end" fill="#3a3a3a" font-family="'Liberation Sans', Arial, sans-serif" textLength="17.5" lengthAdjust="spacingAndGlyphs">0.04</text>
<text x="656.00" y="99.30" font-size="9" text-anchor="end" fill="#3a3a3a" font-family="'Liberation Sans', Arial, sans-serif" textLength="15.6" lengthAdjust="spacingAndGlyphs">400</text>
<line x1="635.40" y1="98.10" x2="637.60" y2="96.90" stroke="#b8b8ac" stroke-width="0.8"/>
<line x1="411.10" y1="66.90" x2="635.40" y2="66.90" stroke="#aeaea2" stroke-width="1"/>
<line x1="411.10" y1="66.90" x2="401.70" y2="74.60" stroke="#b4b4a8" stroke-width="0.9"/>
<line x1="401.70" y1="74.60" x2="398.50" y2="74.90" stroke="#a0a096" stroke-width="0.9"/>
<text x="394.00" y="77.52" font-size="9" text-anchor="end" fill="#3a3a3a" font-family="'Liberation Sans', Arial, sans-serif" textLength="17.5" lengthAdjust="spacingAndGlyphs">0.05</text>
<text x="656.00" y="68.10" font-size="9" text-anchor="end" fill="#3a3a3a" font-family="'Liberation Sans', Arial, sans-serif" textLength="15.6" lengthAdjust="spacingAndGlyphs">500</text>
<line x1="635.40" y1="66.90" x2="637.60" y2="65.70" stroke="#b8b8ac" stroke-width="0.8"/>
<line x1="433.00" y1="230.70" x2="433.00" y2="233.50" stroke="#707070" stroke-width="0.9"/>
<text x="432.60" y="243.80" font-size="9" text-anchor="middle" fill="#3a3a3a" font-family="'Liberation Sans', Arial, sans-serif" textLength="17.5" lengthAdjust="spacingAndGlyphs">0.20</text>
<line x1="465.10" y1="230.70" x2="465.10" y2="233.50" stroke="#707070" stroke-width="0.9"/>
<text x="464.70" y="243.80" font-size="9" text-anchor="middle" fill="#3a3a3a" font-family="'Liberation Sans', Arial, sans-serif" textLength="17.5" lengthAdjust="spacingAndGlyphs">0.30</text>
<line x1="497.20" y1="230.70" x2="497.20" y2="233.50" stroke="#707070" stroke-width="0.9"/>
<text x="496.80" y="243.80" font-size="9" text-anchor="middle" fill="#3a3a3a" font-family="'Liberation Sans', Arial, sans-serif" textLength="17.5" lengthAdjust="spacingAndGlyphs">0.40</text>
<line x1="529.30" y1="230.70" x2="529.30" y2="233.50" stroke="#707070" stroke-width="0.9"/>
<text x="528.90" y="243.80" font-size="9" text-anchor="middle" fill="#3a3a3a" font-family="'Liberation Sans', Arial, sans-serif" textLength="17.5" lengthAdjust="spacingAndGlyphs">0.50</text>
<line x1="561.40" y1="230.70" x2="561.40" y2="233.50" stroke="#707070" stroke-width="0.9"/>
<text x="561.00" y="243.80" font-size="9" text-anchor="middle" fill="#3a3a3a" font-family="'Liberation Sans', Arial, sans-serif" textLength="17.5" lengthAdjust="spacingAndGlyphs">0.60</text>
<line x1="593.50" y1="230.70" x2="593.50" y2="233.50" stroke="#707070" stroke-width="0.9"/>
<text x="593.10" y="243.80" font-size="9" text-anchor="middle" fill="#3a3a3a" font-family="'Liberation Sans', Arial, sans-serif" textLength="17.5" lengthAdjust="spacingAndGlyphs">0.70</text>
<line x1="464.60" y1="55.40" x2="464.60" y2="223.10" stroke="#00008c" stroke-width="2.3"/>
<line x1="517.50" y1="55.40" x2="517.50" y2="223.10" stroke="#00008c" stroke-width="2.3"/>
<line x1="589.50" y1="55.40" x2="589.50" y2="223.10" stroke="#00008c" stroke-width="2.3"/>
<polygon points="411.17,230.20 419.47,222.30 419.47,222.60 411.17,230.50" fill="#1a2eb8" stroke="#0c1a8c" stroke-width="0.5" stroke-linejoin="round"/>
<polygon points="406.80,230.20 411.17,230.20 419.47,222.30 415.10,222.30" fill="#1c34c8" stroke="#0c1a8c" stroke-width="0.45" stroke-linejoin="round"/>
<polygon points="419.91,229.80 428.21,221.90 428.21,222.60 419.91,230.50" fill="#1a2eb8" stroke="#0c1a8c" stroke-width="0.5" stroke-linejoin="round"/>
<polygon points="415.54,229.80 419.91,229.80 428.21,221.90 423.84,221.90" fill="#1c34c8" stroke="#0c1a8c" stroke-width="0.45" stroke-linejoin="round"/>
<rect x="415.54" y="229.80" width="4.37" height="0.70" fill="#1a3cf4" stroke="#0c1a8c" stroke-width="0.75"/>
<rect x="416.14" y="230.20" width="1.97" height="0.10" fill="#ffffff" opacity="0.10"/>
<polygon points="424.28,229.00 432.58,221.10 432.58,222.60 424.28,230.50" fill="#1a2eb8" stroke="#0c1a8c" stroke-width="0.5" stroke-linejoin="round"/>
<polygon points="419.91,229.00 424.28,229.00 432.58,221.10 428.21,221.10" fill="#1c34c8" stroke="#0c1a8c" stroke-width="0.45" stroke-linejoin="round"/>
<rect x="419.91" y="229.00" width="4.37" height="1.50" fill="#1a3cf4" stroke="#0c1a8c" stroke-width="0.75"/>
<rect x="420.51" y="229.40" width="1.97" height="0.90" fill="#ffffff" opacity="0.10"/>
<polygon points="428.65,227.50 436.95,219.60 436.95,222.60 428.65,230.50" fill="#1a2eb8" stroke="#0c1a8c" stroke-width="0.5" stroke-linejoin="round"/>
<polygon points="424.28,227.50 428.65,227.50 436.95,219.60 432.58,219.60" fill="#1c34c8" stroke="#0c1a8c" stroke-width="0.45" stroke-linejoin="round"/>
<rect x="424.28" y="227.50" width="4.37" height="3.00" fill="#1a3cf4" stroke="#0c1a8c" stroke-width="0.75"/>
<rect x="424.88" y="227.90" width="1.97" height="2.40" fill="#ffffff" opacity="0.10"/>
<polygon points="433.02,225.90 441.32,218.00 441.32,222.60 433.02,230.50" fill="#1a2eb8" stroke="#0c1a8c" stroke-width="0.5" stroke-linejoin="round"/>
<polygon points="428.65,225.90 433.02,225.90 441.32,218.00 436.95,218.00" fill="#1c34c8" stroke="#0c1a8c" stroke-width="0.45" stroke-linejoin="round"/>
<rect x="428.65" y="225.90" width="4.37" height="4.60" fill="#1a3cf4" stroke="#0c1a8c" stroke-width="0.75"/>
<rect x="429.25" y="226.30" width="1.97" height="4.00" fill="#ffffff" opacity="0.10"/>
<polygon points="437.39,221.50 445.69,213.60 445.69,222.60 437.39,230.50" fill="#1a2eb8" stroke="#0c1a8c" stroke-width="0.5" stroke-linejoin="round"/>
<polygon points="433.02,221.50 437.39,221.50 445.69,213.60 441.32,213.60" fill="#1c34c8" stroke="#0c1a8c" stroke-width="0.45" stroke-linejoin="round"/>
<rect x="433.02" y="221.50" width="4.37" height="9.00" fill="#1a3cf4" stroke="#0c1a8c" stroke-width="0.75"/>
<rect x="433.62" y="221.90" width="1.97" height="8.40" fill="#ffffff" opacity="0.10"/>
<polygon points="441.76,215.80 450.06,207.90 450.06,222.60 441.76,230.50" fill="#1a2eb8" stroke="#0c1a8c" stroke-width="0.5" stroke-linejoin="round"/>
<polygon points="437.39,215.80 441.76,215.80 450.06,207.90 445.69,207.90" fill="#1c34c8" stroke="#0c1a8c" stroke-width="0.45" stroke-linejoin="round"/>
<rect x="437.39" y="215.80" width="4.37" height="14.70" fill="#1a3cf4" stroke="#0c1a8c" stroke-width="0.75"/>
<rect x="437.99" y="216.20" width="1.97" height="14.10" fill="#ffffff" opacity="0.10"/>
<polygon points="446.13,208.80 454.43,200.90 454.43,222.60 446.13,230.50" fill="#1a2eb8" stroke="#0c1a8c" stroke-width="0.5" stroke-linejoin="round"/>
<polygon points="441.76,208.80 446.13,208.80 454.43,200.90 450.06,200.90" fill="#1c34c8" stroke="#0c1a8c" stroke-width="0.45" stroke-linejoin="round"/>
<rect x="441.76" y="208.80" width="4.37" height="21.70" fill="#1a3cf4" stroke="#0c1a8c" stroke-width="0.75"/>
<rect x="442.36" y="209.20" width="1.97" height="21.10" fill="#ffffff" opacity="0.10"/>
<polygon points="450.50,198.80 458.80,190.90 458.80,222.60 450.50,230.50" fill="#1a2eb8" stroke="#0c1a8c" stroke-width="0.5" stroke-linejoin="round"/>
<polygon points="446.13,198.80 450.50,198.80 458.80,190.90 454.43,190.90" fill="#1c34c8" stroke="#0c1a8c" stroke-width="0.45" stroke-linejoin="round"/>
<rect x="446.13" y="198.80" width="4.37" height="31.70" fill="#1a3cf4" stroke="#0c1a8c" stroke-width="0.75"/>
<rect x="446.73" y="199.20" width="1.97" height="31.10" fill="#ffffff" opacity="0.10"/>
<polygon points="454.87,178.50 463.17,170.60 463.17,222.60 454.87,230.50" fill="#1a2eb8" stroke="#0c1a8c" stroke-width="0.5" stroke-linejoin="round"/>
<polygon points="450.50,178.50 454.87,178.50 463.17,170.60 458.80,170.60" fill="#1c34c8" stroke="#0c1a8c" stroke-width="0.45" stroke-linejoin="round"/>
<rect x="450.50" y="178.50" width="4.37" height="52.00" fill="#1a3cf4" stroke="#0c1a8c" stroke-width="0.75"/>
<rect x="451.10" y="178.90" width="1.97" height="51.40" fill="#ffffff" opacity="0.10"/>
<polygon points="459.24,167.50 467.54,159.60 467.54,222.60 459.24,230.50" fill="#1a2eb8" stroke="#0c1a8c" stroke-width="0.5" stroke-linejoin="round"/>
<polygon points="454.87,167.50 459.24,167.50 467.54,159.60 463.17,159.60" fill="#1c34c8" stroke="#0c1a8c" stroke-width="0.45" stroke-linejoin="round"/>
<rect x="454.87" y="167.50" width="4.37" height="63.00" fill="#1a3cf4" stroke="#0c1a8c" stroke-width="0.75"/>
<rect x="455.47" y="167.90" width="1.97" height="62.40" fill="#ffffff" opacity="0.10"/>
<polygon points="463.61,153.50 471.91,145.60 471.91,222.60 463.61,230.50" fill="#1a2eb8" stroke="#0c1a8c" stroke-width="0.5" stroke-linejoin="round"/>
<polygon points="459.24,153.50 463.61,153.50 471.91,145.60 467.54,145.60" fill="#1c34c8" stroke="#0c1a8c" stroke-width="0.45" stroke-linejoin="round"/>
<rect x="459.24" y="153.50" width="4.37" height="77.00" fill="#1a3cf4" stroke="#0c1a8c" stroke-width="0.75"/>
<rect x="459.84" y="153.90" width="1.97" height="76.40" fill="#ffffff" opacity="0.10"/>
<polygon points="467.98,132.10 476.28,124.20 476.28,222.60 467.98,230.50" fill="#1a2eb8" stroke="#0c1a8c" stroke-width="0.5" stroke-linejoin="round"/>
<polygon points="463.61,132.10 467.98,132.10 476.28,124.20 471.91,124.20" fill="#1c34c8" stroke="#0c1a8c" stroke-width="0.45" stroke-linejoin="round"/>
<rect x="463.61" y="132.10" width="4.37" height="98.40" fill="#1a3cf4" stroke="#0c1a8c" stroke-width="0.75"/>
<rect x="464.21" y="132.50" width="1.97" height="97.80" fill="#ffffff" opacity="0.10"/>
<polygon points="472.35,124.10 480.65,116.20 480.65,222.60 472.35,230.50" fill="#1a2eb8" stroke="#0c1a8c" stroke-width="0.5" stroke-linejoin="round"/>
<polygon points="467.98,124.10 472.35,124.10 480.65,116.20 476.28,116.20" fill="#1c34c8" stroke="#0c1a8c" stroke-width="0.45" stroke-linejoin="round"/>
<rect x="467.98" y="124.10" width="4.37" height="106.40" fill="#1a3cf4" stroke="#0c1a8c" stroke-width="0.75"/>
<rect x="468.58" y="124.50" width="1.97" height="105.80" fill="#ffffff" opacity="0.10"/>
<polygon points="476.72,98.30 485.02,90.40 485.02,222.60 476.72,230.50" fill="#1a2eb8" stroke="#0c1a8c" stroke-width="0.5" stroke-linejoin="round"/>
<polygon points="472.35,98.30 476.72,98.30 485.02,90.40 480.65,90.40" fill="#1c34c8" stroke="#0c1a8c" stroke-width="0.45" stroke-linejoin="round"/>
<rect x="472.35" y="98.30" width="4.37" height="132.20" fill="#1a3cf4" stroke="#0c1a8c" stroke-width="0.75"/>
<rect x="472.95" y="98.70" width="1.97" height="131.60" fill="#ffffff" opacity="0.10"/>
<polygon points="481.09,87.30 489.39,79.40 489.39,222.60 481.09,230.50" fill="#1a2eb8" stroke="#0c1a8c" stroke-width="0.5" stroke-linejoin="round"/>
<polygon points="476.72,87.30 481.09,87.30 489.39,79.40 485.02,79.40" fill="#1c34c8" stroke="#0c1a8c" stroke-width="0.45" stroke-linejoin="round"/>
<rect x="476.72" y="87.30" width="4.37" height="143.20" fill="#1a3cf4" stroke="#0c1a8c" stroke-width="0.75"/>
<rect x="477.32" y="87.70" width="1.97" height="142.60" fill="#ffffff" opacity="0.10"/>
<polygon points="485.46,76.40 493.76,68.50 493.76,222.60 485.46,230.50" fill="#1a2eb8" stroke="#0c1a8c" stroke-width="0.5" stroke-linejoin="round"/>
<polygon points="481.09,76.40 485.46,76.40 493.76,68.50 489.39,68.50" fill="#1c34c8" stroke="#0c1a8c" stroke-width="0.45" stroke-linejoin="round"/>
<rect x="481.09" y="76.40" width="4.37" height="154.10" fill="#1a3cf4" stroke="#0c1a8c" stroke-width="0.75"/>
<rect x="481.69" y="76.80" width="1.97" height="153.50" fill="#ffffff" opacity="0.10"/>
<polygon points="489.83,81.50 498.13,73.60 498.13,222.60 489.83,230.50" fill="#1a2eb8" stroke="#0c1a8c" stroke-width="0.5" stroke-linejoin="round"/>
<polygon points="485.46,81.50 489.83,81.50 498.13,73.60 493.76,73.60" fill="#1c34c8" stroke="#0c1a8c" stroke-width="0.45" stroke-linejoin="round"/>
<rect x="485.46" y="81.50" width="4.37" height="149.00" fill="#1a3cf4" stroke="#0c1a8c" stroke-width="0.75"/>
<rect x="486.06" y="81.90" width="1.97" height="148.40" fill="#ffffff" opacity="0.10"/>
<polygon points="494.20,81.50 502.50,73.60 502.50,222.60 494.20,230.50" fill="#1a2eb8" stroke="#0c1a8c" stroke-width="0.5" stroke-linejoin="round"/>
<polygon points="489.83,81.50 494.20,81.50 502.50,73.60 498.13,73.60" fill="#1c34c8" stroke="#0c1a8c" stroke-width="0.45" stroke-linejoin="round"/>
<rect x="489.83" y="81.50" width="4.37" height="149.00" fill="#1a3cf4" stroke="#0c1a8c" stroke-width="0.75"/>
<rect x="490.43" y="81.90" width="1.97" height="148.40" fill="#ffffff" opacity="0.10"/>
<polygon points="498.57,71.30 506.87,63.40 506.87,222.60 498.57,230.50" fill="#1a2eb8" stroke="#0c1a8c" stroke-width="0.5" stroke-linejoin="round"/>
<polygon points="494.20,71.30 498.57,71.30 506.87,63.40 502.50,63.40" fill="#1c34c8" stroke="#0c1a8c" stroke-width="0.45" stroke-linejoin="round"/>
<rect x="494.20" y="71.30" width="4.37" height="159.20" fill="#1a3cf4" stroke="#0c1a8c" stroke-width="0.75"/>
<rect x="494.80" y="71.70" width="1.97" height="158.60" fill="#ffffff" opacity="0.10"/>
<polygon points="502.94,88.80 511.24,80.90 511.24,222.60 502.94,230.50" fill="#1a2eb8" stroke="#0c1a8c" stroke-width="0.5" stroke-linejoin="round"/>
<polygon points="498.57,88.80 502.94,88.80 511.24,80.90 506.87,80.90" fill="#1c34c8" stroke="#0c1a8c" stroke-width="0.45" stroke-linejoin="round"/>
<rect x="498.57" y="88.80" width="4.37" height="141.70" fill="#1a3cf4" stroke="#0c1a8c" stroke-width="0.75"/>
<rect x="499.17" y="89.20" width="1.97" height="141.10" fill="#ffffff" opacity="0.10"/>
<polygon points="507.31,86.60 515.61,78.70 515.61,222.60 507.31,230.50" fill="#1a2eb8" stroke="#0c1a8c" stroke-width="0.5" stroke-linejoin="round"/>
<polygon points="502.94,86.60 507.31,86.60 515.61,78.70 511.24,78.70" fill="#1c34c8" stroke="#0c1a8c" stroke-width="0.45" stroke-linejoin="round"/>
<rect x="502.94" y="86.60" width="4.37" height="143.90" fill="#1a3cf4" stroke="#0c1a8c" stroke-width="0.75"/>
<rect x="503.54" y="87.00" width="1.97" height="143.30" fill="#ffffff" opacity="0.10"/>
<polygon points="511.68,93.50 519.98,85.60 519.98,222.60 511.68,230.50" fill="#1a2eb8" stroke="#0c1a8c" stroke-width="0.5" stroke-linejoin="round"/>
<polygon points="507.31,93.50 511.68,93.50 519.98,85.60 515.61,85.60" fill="#1c34c8" stroke="#0c1a8c" stroke-width="0.45" stroke-linejoin="round"/>
<rect x="507.31" y="93.50" width="4.37" height="137.00" fill="#1a3cf4" stroke="#0c1a8c" stroke-width="0.75"/>
<rect x="507.91" y="93.90" width="1.97" height="136.40" fill="#ffffff" opacity="0.10"/>
<polygon points="516.05,99.50 524.35,91.60 524.35,222.60 516.05,230.50" fill="#1a2eb8" stroke="#0c1a8c" stroke-width="0.5" stroke-linejoin="round"/>
<polygon points="511.68,99.50 516.05,99.50 524.35,91.60 519.98,91.60" fill="#1c34c8" stroke="#0c1a8c" stroke-width="0.45" stroke-linejoin="round"/>
<rect x="511.68" y="99.50" width="4.37" height="131.00" fill="#1a3cf4" stroke="#0c1a8c" stroke-width="0.75"/>
<rect x="512.28" y="99.90" width="1.97" height="130.40" fill="#ffffff" opacity="0.10"/>
<polygon points="520.42,99.70 528.72,91.80 528.72,222.60 520.42,230.50" fill="#1a2eb8" stroke="#0c1a8c" stroke-width="0.5" stroke-linejoin="round"/>
<polygon points="516.05,99.70 520.42,99.70 528.72,91.80 524.35,91.80" fill="#1c34c8" stroke="#0c1a8c" stroke-width="0.45" stroke-linejoin="round"/>
<rect x="516.05" y="99.70" width="4.37" height="130.80" fill="#1a3cf4" stroke="#0c1a8c" stroke-width="0.75"/>
<rect x="516.65" y="100.10" width="1.97" height="130.20" fill="#ffffff" opacity="0.10"/>
<polygon points="524.79,110.50 533.09,102.60 533.09,222.60 524.79,230.50" fill="#1a2eb8" stroke="#0c1a8c" stroke-width="0.5" stroke-linejoin="round"/>
<polygon points="520.42,110.50 524.79,110.50 533.09,102.60 528.72,102.60" fill="#1c34c8" stroke="#0c1a8c" stroke-width="0.45" stroke-linejoin="round"/>
<rect x="520.42" y="110.50" width="4.37" height="120.00" fill="#1a3cf4" stroke="#0c1a8c" stroke-width="0.75"/>
<rect x="521.02" y="110.90" width="1.97" height="119.40" fill="#ffffff" opacity="0.10"/>
<polygon points="529.16,123.70 537.46,115.80 537.46,222.60 529.16,230.50" fill="#1a2eb8" stroke="#0c1a8c" stroke-width="0.5" stroke-linejoin="round"/>
<polygon points="524.79,123.70 529.16,123.70 537.46,115.80 533.09,115.80" fill="#1c34c8" stroke="#0c1a8c" stroke-width="0.45" stroke-linejoin="round"/>
<rect x="524.79" y="123.70" width="4.37" height="106.80" fill="#1a3cf4" stroke="#0c1a8c" stroke-width="0.75"/>
<rect x="525.39" y="124.10" width="1.97" height="106.20" fill="#ffffff" opacity="0.10"/>
<polygon points="533.53,132.40 541.83,124.50 541.83,222.60 533.53,230.50" fill="#1a2eb8" stroke="#0c1a8c" stroke-width="0.5" stroke-linejoin="round"/>
<polygon points="529.16,132.40 533.53,132.40 541.83,124.50 537.46,124.50" fill="#1c34c8" stroke="#0c1a8c" stroke-width="0.45" stroke-linejoin="round"/>
<rect x="529.16" y="132.40" width="4.37" height="98.10" fill="#1a3cf4" stroke="#0c1a8c" stroke-width="0.75"/>
<rect x="529.76" y="132.80" width="1.97" height="97.50" fill="#ffffff" opacity="0.10"/>
<polygon points="537.90,139.70 546.20,131.80 546.20,222.60 537.90,230.50" fill="#1a2eb8" stroke="#0c1a8c" stroke-width="0.5" stroke-linejoin="round"/>
<polygon points="533.53,139.70 537.90,139.70 546.20,131.80 541.83,131.80" fill="#1c34c8" stroke="#0c1a8c" stroke-width="0.45" stroke-linejoin="round"/>
<rect x="533.53" y="139.70" width="4.37" height="90.80" fill="#1a3cf4" stroke="#0c1a8c" stroke-width="0.75"/>
<rect x="534.13" y="140.10" width="1.97" height="90.20" fill="#ffffff" opacity="0.10"/>
<polygon points="542.27,148.50 550.57,140.60 550.57,222.60 542.27,230.50" fill="#1a2eb8" stroke="#0c1a8c" stroke-width="0.5" stroke-linejoin="round"/>
<polygon points="537.90,148.50 542.27,148.50 550.57,140.60 546.20,140.60" fill="#1c34c8" stroke="#0c1a8c" stroke-width="0.45" stroke-linejoin="round"/>
<rect x="537.90" y="148.50" width="4.37" height="82.00" fill="#1a3cf4" stroke="#0c1a8c" stroke-width="0.75"/>
<rect x="538.50" y="148.90" width="1.97" height="81.40" fill="#ffffff" opacity="0.10"/>
<polygon points="546.64,158.50 554.94,150.60 554.94,222.60 546.64,230.50" fill="#1a2eb8" stroke="#0c1a8c" stroke-width="0.5" stroke-linejoin="round"/>
<polygon points="542.27,158.50 546.64,158.50 554.94,150.60 550.57,150.60" fill="#1c34c8" stroke="#0c1a8c" stroke-width="0.45" stroke-linejoin="round"/>
<rect x="542.27" y="158.50" width="4.37" height="72.00" fill="#1a3cf4" stroke="#0c1a8c" stroke-width="0.75"/>
<rect x="542.87" y="158.90" width="1.97" height="71.40" fill="#ffffff" opacity="0.10"/>
<polygon points="551.01,168.50 559.31,160.60 559.31,222.60 551.01,230.50" fill="#1a2eb8" stroke="#0c1a8c" stroke-width="0.5" stroke-linejoin="round"/>
<polygon points="546.64,168.50 551.01,168.50 559.31,160.60 554.94,160.60" fill="#1c34c8" stroke="#0c1a8c" stroke-width="0.45" stroke-linejoin="round"/>
<rect x="546.64" y="168.50" width="4.37" height="62.00" fill="#1a3cf4" stroke="#0c1a8c" stroke-width="0.75"/>
<rect x="547.24" y="168.90" width="1.97" height="61.40" fill="#ffffff" opacity="0.10"/>
<polygon points="555.38,178.60 563.68,170.70 563.68,222.60 555.38,230.50" fill="#1a2eb8" stroke="#0c1a8c" stroke-width="0.5" stroke-linejoin="round"/>
<polygon points="551.01,178.60 555.38,178.60 563.68,170.70 559.31,170.70" fill="#1c34c8" stroke="#0c1a8c" stroke-width="0.45" stroke-linejoin="round"/>
<rect x="551.01" y="178.60" width="4.37" height="51.90" fill="#1a3cf4" stroke="#0c1a8c" stroke-width="0.75"/>
<rect x="551.61" y="179.00" width="1.97" height="51.30" fill="#ffffff" opacity="0.10"/>
<polygon points="559.75,182.90 568.05,175.00 568.05,222.60 559.75,230.50" fill="#1a2eb8" stroke="#0c1a8c" stroke-width="0.5" stroke-linejoin="round"/>
<polygon points="555.38,182.90 559.75,182.90 568.05,175.00 563.68,175.00" fill="#1c34c8" stroke="#0c1a8c" stroke-width="0.45" stroke-linejoin="round"/>
<rect x="555.38" y="182.90" width="4.37" height="47.60" fill="#1a3cf4" stroke="#0c1a8c" stroke-width="0.75"/>
<rect x="555.98" y="183.30" width="1.97" height="47.00" fill="#ffffff" opacity="0.10"/>
<polygon points="564.12,184.00 572.42,176.10 572.42,222.60 564.12,230.50" fill="#1a2eb8" stroke="#0c1a8c" stroke-width="0.5" stroke-linejoin="round"/>
<polygon points="559.75,184.00 564.12,184.00 572.42,176.10 568.05,176.10" fill="#1c34c8" stroke="#0c1a8c" stroke-width="0.45" stroke-linejoin="round"/>
<rect x="559.75" y="184.00" width="4.37" height="46.50" fill="#1a3cf4" stroke="#0c1a8c" stroke-width="0.75"/>
<rect x="560.35" y="184.40" width="1.97" height="45.90" fill="#ffffff" opacity="0.10"/>
<polygon points="568.49,192.40 576.79,184.50 576.79,222.60 568.49,230.50" fill="#1a2eb8" stroke="#0c1a8c" stroke-width="0.5" stroke-linejoin="round"/>
<polygon points="564.12,192.40 568.49,192.40 576.79,184.50 572.42,184.50" fill="#1c34c8" stroke="#0c1a8c" stroke-width="0.45" stroke-linejoin="round"/>
<rect x="564.12" y="192.40" width="4.37" height="38.10" fill="#1a3cf4" stroke="#0c1a8c" stroke-width="0.75"/>
<rect x="564.72" y="192.80" width="1.97" height="37.50" fill="#ffffff" opacity="0.10"/>
<polygon points="572.86,199.00 581.16,191.10 581.16,222.60 572.86,230.50" fill="#1a2eb8" stroke="#0c1a8c" stroke-width="0.5" stroke-linejoin="round"/>
<polygon points="568.49,199.00 572.86,199.00 581.16,191.10 576.79,191.10" fill="#1c34c8" stroke="#0c1a8c" stroke-width="0.45" stroke-linejoin="round"/>
<rect x="568.49" y="199.00" width="4.37" height="31.50" fill="#1a3cf4" stroke="#0c1a8c" stroke-width="0.75"/>
<rect x="569.09" y="199.40" width="1.97" height="30.90" fill="#ffffff" opacity="0.10"/>
<polygon points="577.23,199.70 585.53,191.80 585.53,222.60 577.23,230.50" fill="#1a2eb8" stroke="#0c1a8c" stroke-width="0.5" stroke-linejoin="round"/>
<polygon points="572.86,199.70 577.23,199.70 585.53,191.80 581.16,191.80" fill="#1c34c8" stroke="#0c1a8c" stroke-width="0.45" stroke-linejoin="round"/>
<rect x="572.86" y="199.70" width="4.37" height="30.80" fill="#1a3cf4" stroke="#0c1a8c" stroke-width="0.75"/>
<rect x="573.46" y="200.10" width="1.97" height="30.20" fill="#ffffff" opacity="0.10"/>
<polygon points="581.60,204.80 589.90,196.90 589.90,222.60 581.60,230.50" fill="#1a2eb8" stroke="#0c1a8c" stroke-width="0.5" stroke-linejoin="round"/>
<polygon points="577.23,204.80 581.60,204.80 589.90,196.90 585.53,196.90" fill="#1c34c8" stroke="#0c1a8c" stroke-width="0.45" stroke-linejoin="round"/>
<rect x="577.23" y="204.80" width="4.37" height="25.70" fill="#1a3cf4" stroke="#0c1a8c" stroke-width="0.75"/>
<rect x="577.83" y="205.20" width="1.97" height="25.10" fill="#ffffff" opacity="0.10"/>
<polygon points="585.97,206.30 594.27,198.40 594.27,222.60 585.97,230.50" fill="#1a2eb8" stroke="#0c1a8c" stroke-width="0.5" stroke-linejoin="round"/>
<polygon points="581.60,206.30 585.97,206.30 594.27,198.40 589.90,198.40" fill="#1c34c8" stroke="#0c1a8c" stroke-width="0.45" stroke-linejoin="round"/>
<rect x="581.60" y="206.30" width="4.37" height="24.20" fill="#1a3cf4" stroke="#0c1a8c" stroke-width="0.75"/>
<rect x="582.20" y="206.70" width="1.97" height="23.60" fill="#ffffff" opacity="0.10"/>
<polygon points="590.34,216.50 598.64,208.60 598.64,222.60 590.34,230.50" fill="#1a2eb8" stroke="#0c1a8c" stroke-width="0.5" stroke-linejoin="round"/>
<polygon points="585.97,216.50 590.34,216.50 598.64,208.60 594.27,208.60" fill="#1c34c8" stroke="#0c1a8c" stroke-width="0.45" stroke-linejoin="round"/>
<rect x="585.97" y="216.50" width="4.37" height="14.00" fill="#1a3cf4" stroke="#0c1a8c" stroke-width="0.75"/>
<rect x="586.57" y="216.90" width="1.97" height="13.40" fill="#ffffff" opacity="0.10"/>
<polygon points="594.71,214.30 603.01,206.40 603.01,222.60 594.71,230.50" fill="#1a2eb8" stroke="#0c1a8c" stroke-width="0.5" stroke-linejoin="round"/>
<polygon points="590.34,214.30 594.71,214.30 603.01,206.40 598.64,206.40" fill="#1c34c8" stroke="#0c1a8c" stroke-width="0.45" stroke-linejoin="round"/>
<rect x="590.34" y="214.30" width="4.37" height="16.20" fill="#1a3cf4" stroke="#0c1a8c" stroke-width="0.75"/>
<rect x="590.94" y="214.70" width="1.97" height="15.60" fill="#ffffff" opacity="0.10"/>
<polygon points="599.08,215.00 607.38,207.10 607.38,222.60 599.08,230.50" fill="#1a2eb8" stroke="#0c1a8c" stroke-width="0.5" stroke-linejoin="round"/>
<polygon points="594.71,215.00 599.08,215.00 607.38,207.10 603.01,207.10" fill="#1c34c8" stroke="#0c1a8c" stroke-width="0.45" stroke-linejoin="round"/>
<rect x="594.71" y="215.00" width="4.37" height="15.50" fill="#1a3cf4" stroke="#0c1a8c" stroke-width="0.75"/>
<rect x="595.31" y="215.40" width="1.97" height="14.90" fill="#ffffff" opacity="0.10"/>
<polygon points="603.45,219.40 611.75,211.50 611.75,222.60 603.45,230.50" fill="#1a2eb8" stroke="#0c1a8c" stroke-width="0.5" stroke-linejoin="round"/>
<polygon points="599.08,219.40 603.45,219.40 611.75,211.50 607.38,211.50" fill="#1c34c8" stroke="#0c1a8c" stroke-width="0.45" stroke-linejoin="round"/>
<rect x="599.08" y="219.40" width="4.37" height="11.10" fill="#1a3cf4" stroke="#0c1a8c" stroke-width="0.75"/>
<rect x="599.68" y="219.80" width="1.97" height="10.50" fill="#ffffff" opacity="0.10"/>
<polygon points="607.82,219.40 616.12,211.50 616.12,222.60 607.82,230.50" fill="#1a2eb8" stroke="#0c1a8c" stroke-width="0.5" stroke-linejoin="round"/>
<polygon points="603.45,219.40 607.82,219.40 616.12,211.50 611.75,211.50" fill="#1c34c8" stroke="#0c1a8c" stroke-width="0.45" stroke-linejoin="round"/>
<rect x="603.45" y="219.40" width="4.37" height="11.10" fill="#1a3cf4" stroke="#0c1a8c" stroke-width="0.75"/>
<rect x="604.05" y="219.80" width="1.97" height="10.50" fill="#ffffff" opacity="0.10"/>
<polygon points="612.19,223.80 620.49,215.90 620.49,222.60 612.19,230.50" fill="#1a2eb8" stroke="#0c1a8c" stroke-width="0.5" stroke-linejoin="round"/>
<polygon points="607.82,223.80 612.19,223.80 620.49,215.90 616.12,215.90" fill="#1c34c8" stroke="#0c1a8c" stroke-width="0.45" stroke-linejoin="round"/>
<rect x="607.82" y="223.80" width="4.37" height="6.70" fill="#1a3cf4" stroke="#0c1a8c" stroke-width="0.75"/>
<rect x="608.42" y="224.20" width="1.97" height="6.10" fill="#ffffff" opacity="0.10"/>
<polygon points="616.56,223.10 624.86,215.20 624.86,222.60 616.56,230.50" fill="#1a2eb8" stroke="#0c1a8c" stroke-width="0.5" stroke-linejoin="round"/>
<polygon points="612.19,223.10 616.56,223.10 624.86,215.20 620.49,215.20" fill="#1c34c8" stroke="#0c1a8c" stroke-width="0.45" stroke-linejoin="round"/>
<rect x="612.19" y="223.10" width="4.37" height="7.40" fill="#1a3cf4" stroke="#0c1a8c" stroke-width="0.75"/>
<rect x="612.79" y="223.50" width="1.97" height="6.80" fill="#ffffff" opacity="0.10"/>
<polygon points="620.93,223.80 629.23,215.90 629.23,222.60 620.93,230.50" fill="#1a2eb8" stroke="#0c1a8c" stroke-width="0.5" stroke-linejoin="round"/>
<polygon points="616.56,223.80 620.93,223.80 629.23,215.90 624.86,215.90" fill="#1c34c8" stroke="#0c1a8c" stroke-width="0.45" stroke-linejoin="round"/>
<rect x="616.56" y="223.80" width="4.37" height="6.70" fill="#1a3cf4" stroke="#0c1a8c" stroke-width="0.75"/>
<rect x="617.16" y="224.20" width="1.97" height="6.10" fill="#ffffff" opacity="0.10"/>
<polyline points="456.00,231.00 456.00,62.80 464.60,55.40" fill="none" stroke="#00008c" stroke-width="2.3" stroke-linejoin="miter"/>
<line x1="464.60" y1="54.30" x2="464.60" y2="61.40" stroke="#00008c" stroke-width="2.3"/>
<polyline points="508.90,231.00 508.90,62.80 517.50,55.40" fill="none" stroke="#00008c" stroke-width="2.3" stroke-linejoin="miter"/>
<line x1="517.50" y1="54.30" x2="517.50" y2="61.40" stroke="#00008c" stroke-width="2.3"/>
<polyline points="580.90,231.00 580.90,62.80 589.50,55.40" fill="none" stroke="#00008c" stroke-width="2.3" stroke-linejoin="miter"/>
<line x1="589.50" y1="54.30" x2="589.50" y2="61.40" stroke="#00008c" stroke-width="2.3"/>
<line x1="456.00" y1="175.00" x2="460.50" y2="175.00" stroke="#000000" stroke-width="1.3"/>
<rect x="460.50" y="170.00" width="45.00" height="10.00" fill="#ffffff" stroke="#2a2a2a" stroke-width="0.9"/>
<text x="461.80" y="178.05" font-size="8.6" text-anchor="start" fill="#262c94" font-family="'Liberation Sans', Arial, sans-serif" textLength="39.6" lengthAdjust="spacingAndGlyphs">5% = 0.27</text>
<line x1="575.20" y1="150.55" x2="579.70" y2="150.55" stroke="#000000" stroke-width="1.3"/>
<rect x="524.60" y="145.40" width="50.60" height="10.30" fill="#ffffff" stroke="#2a2a2a" stroke-width="0.9"/>
<text x="525.90" y="153.60" font-size="8.6" text-anchor="start" fill="#262c94" font-family="'Liberation Sans', Arial, sans-serif" textLength="45.2" lengthAdjust="spacingAndGlyphs">95% = 0.66</text>
<line x1="508.50" y1="163.10" x2="513.00" y2="163.10" stroke="#000000" stroke-width="1.3"/>
<rect x="513.00" y="158.00" width="55.40" height="10.20" fill="#ffffff" stroke="#2a2a2a" stroke-width="0.9"/>
<text x="514.30" y="166.15" font-size="8.6" text-anchor="start" fill="#262c94" font-family="'Liberation Sans', Arial, sans-serif" textLength="50.0" lengthAdjust="spacingAndGlyphs">Mean = 0.44</text>
<text x="513.90" y="43.00" font-size="10.6" text-anchor="middle" fill="#1a1a1a" font-family="'Liberation Sans', Arial, sans-serif" font-weight="bold" textLength="38.2" lengthAdjust="spacingAndGlyphs">Adults</text>
<text x="363.90" y="145.40" font-size="12" text-anchor="middle" fill="#3a3a3a" font-family="'Liberation Sans', Arial, sans-serif" textLength="50.7" lengthAdjust="spacingAndGlyphs" transform="rotate(-90 363.90 145.40)">Probability</text>
<text x="666.00" y="138.20" font-size="12" text-anchor="middle" fill="#3a3a3a" font-family="'Liberation Sans', Arial, sans-serif" textLength="52.0" lengthAdjust="spacingAndGlyphs" transform="rotate(90 666.00 138.20)">Frequency</text>
<polygon points="393.00,224.40 401.00,230.00 393.00,235.60" fill="#5a5a5a" stroke="#2e2e2e" stroke-width="0.7" stroke-linejoin="round"/>
<polygon points="393.60,225.60 399.60,229.80 393.60,229.80" fill="#8c8c8c"/>
<polygon points="634.00,224.00 626.00,229.60 634.00,235.20" fill="#5a5a5a" stroke="#2e2e2e" stroke-width="0.7" stroke-linejoin="round"/>
<polygon points="633.40,225.20 627.40,229.40 633.40,229.40" fill="#8c8c8c"/>
<rect x="1.60" y="265.00" width="348.50" height="196.50" fill="#f8f8f8"/>
<rect x="4.10" y="267.50" width="343.50" height="191.50" fill="#efefef"/>
<line x1="3.60" y1="267.50" x2="348.10" y2="267.50" stroke="#8e8e8e" stroke-width="1.2"/>
<line x1="4.10" y1="267.50" x2="4.10" y2="459.00" stroke="#8e8e8e" stroke-width="1.2"/>
<line x1="3.60" y1="459.00" x2="348.10" y2="459.00" stroke="#9a9a9a" stroke-width="1.6"/>
<rect x="67.20" y="285.80" width="236.40" height="146.70" fill="#c9c9bd"/>
<rect x="67.20" y="287.60" width="234.60" height="144.90" fill="#fffff2"/>
<polygon points="67.20,285.80 67.20,432.50 57.80,439.40 57.80,292.70" fill="#c9c9bf"/>
<polygon points="57.80,292.70 57.80,439.40 55.10,441.70 55.10,295.00" fill="#f7f7ee" stroke="#d4d4c8" stroke-width="0.4" stroke-linejoin="round"/>
<polygon points="67.20,285.80 57.80,292.70 55.10,295.00 65.30,287.00" fill="#dcdcd2"/>
<polygon points="67.20,432.50 302.40,432.50 293.00,439.40 57.80,439.40" fill="#d6d6cc"/>
<polygon points="57.80,439.40 293.00,439.40 290.30,441.70 55.10,441.70" fill="#fafaf2" stroke="#d8d8cc" stroke-width="0.4" stroke-linejoin="round"/>
<polygon points="302.40,432.50 303.60,432.50 291.50,441.70 290.30,441.70 293.00,439.40" fill="#c6c6ba"/>
<line x1="67.20" y1="432.50" x2="57.80" y2="439.40" stroke="#b4b4a8" stroke-width="0.9"/>
<line x1="57.80" y1="439.40" x2="54.60" y2="439.70" stroke="#a0a096" stroke-width="0.9"/>
<text x="49.80" y="442.05" font-size="8.2" text-anchor="end" fill="#3a3a3a" font-family="'Liberation Sans', Arial, sans-serif" textLength="17.5" lengthAdjust="spacingAndGlyphs">0.00</text>
<text x="324.00" y="433.70" font-size="8.2" text-anchor="end" fill="#3a3a3a" font-family="'Liberation Sans', Arial, sans-serif" textLength="5.0" lengthAdjust="spacingAndGlyphs">0</text>
<line x1="302.40" y1="432.50" x2="304.60" y2="431.30" stroke="#b8b8ac" stroke-width="0.8"/>
<line x1="67.20" y1="404.65" x2="302.40" y2="404.65" stroke="#aeaea2" stroke-width="1"/>
<line x1="67.20" y1="404.65" x2="57.80" y2="411.55" stroke="#b4b4a8" stroke-width="0.9"/>
<line x1="57.80" y1="411.55" x2="54.60" y2="411.85" stroke="#a0a096" stroke-width="0.9"/>
<text x="49.80" y="414.20" font-size="8.2" text-anchor="end" fill="#3a3a3a" font-family="'Liberation Sans', Arial, sans-serif" textLength="17.5" lengthAdjust="spacingAndGlyphs">0.01</text>
<text x="324.00" y="405.85" font-size="8.2" text-anchor="end" fill="#3a3a3a" font-family="'Liberation Sans', Arial, sans-serif" textLength="15.6" lengthAdjust="spacingAndGlyphs">100</text>
<line x1="302.40" y1="404.65" x2="304.60" y2="403.45" stroke="#b8b8ac" stroke-width="0.8"/>
<line x1="67.20" y1="376.80" x2="302.40" y2="376.80" stroke="#aeaea2" stroke-width="1"/>
<line x1="67.20" y1="376.80" x2="57.80" y2="383.70" stroke="#b4b4a8" stroke-width="0.9"/>
<line x1="57.80" y1="383.70" x2="54.60" y2="384.00" stroke="#a0a096" stroke-width="0.9"/>
<text x="49.80" y="386.35" font-size="8.2" text-anchor="end" fill="#3a3a3a" font-family="'Liberation Sans', Arial, sans-serif" textLength="17.5" lengthAdjust="spacingAndGlyphs">0.02</text>
<text x="324.00" y="378.00" font-size="8.2" text-anchor="end" fill="#3a3a3a" font-family="'Liberation Sans', Arial, sans-serif" textLength="15.6" lengthAdjust="spacingAndGlyphs">200</text>
<line x1="302.40" y1="376.80" x2="304.60" y2="375.60" stroke="#b8b8ac" stroke-width="0.8"/>
<line x1="67.20" y1="348.95" x2="302.40" y2="348.95" stroke="#aeaea2" stroke-width="1"/>
<line x1="67.20" y1="348.95" x2="57.80" y2="355.85" stroke="#b4b4a8" stroke-width="0.9"/>
<line x1="57.80" y1="355.85" x2="54.60" y2="356.15" stroke="#a0a096" stroke-width="0.9"/>
<text x="49.80" y="358.50" font-size="8.2" text-anchor="end" fill="#3a3a3a" font-family="'Liberation Sans', Arial, sans-serif" textLength="17.5" lengthAdjust="spacingAndGlyphs">0.03</text>
<text x="324.00" y="350.15" font-size="8.2" text-anchor="end" fill="#3a3a3a" font-family="'Liberation Sans', Arial, sans-serif" textLength="15.6" lengthAdjust="spacingAndGlyphs">300</text>
<line x1="302.40" y1="348.95" x2="304.60" y2="347.75" stroke="#b8b8ac" stroke-width="0.8"/>
<line x1="67.20" y1="321.10" x2="302.40" y2="321.10" stroke="#aeaea2" stroke-width="1"/>
<line x1="67.20" y1="321.10" x2="57.80" y2="328.00" stroke="#b4b4a8" stroke-width="0.9"/>
<line x1="57.80" y1="328.00" x2="54.60" y2="328.30" stroke="#a0a096" stroke-width="0.9"/>
<text x="49.80" y="330.65" font-size="8.2" text-anchor="end" fill="#3a3a3a" font-family="'Liberation Sans', Arial, sans-serif" textLength="17.5" lengthAdjust="spacingAndGlyphs">0.04</text>
<text x="324.00" y="322.30" font-size="8.2" text-anchor="end" fill="#3a3a3a" font-family="'Liberation Sans', Arial, sans-serif" textLength="15.6" lengthAdjust="spacingAndGlyphs">400</text>
<line x1="302.40" y1="321.10" x2="304.60" y2="319.90" stroke="#b8b8ac" stroke-width="0.8"/>
<line x1="67.20" y1="293.25" x2="302.40" y2="293.25" stroke="#aeaea2" stroke-width="1"/>
<line x1="67.20" y1="293.25" x2="57.80" y2="300.15" stroke="#b4b4a8" stroke-width="0.9"/>
<line x1="57.80" y1="300.15" x2="54.60" y2="300.45" stroke="#a0a096" stroke-width="0.9"/>
<text x="49.80" y="302.80" font-size="8.2" text-anchor="end" fill="#3a3a3a" font-family="'Liberation Sans', Arial, sans-serif" textLength="17.5" lengthAdjust="spacingAndGlyphs">0.05</text>
<text x="324.00" y="294.45" font-size="8.2" text-anchor="end" fill="#3a3a3a" font-family="'Liberation Sans', Arial, sans-serif" textLength="15.6" lengthAdjust="spacingAndGlyphs">500</text>
<line x1="302.40" y1="293.25" x2="304.60" y2="292.05" stroke="#b8b8ac" stroke-width="0.8"/>
<line x1="90.80" y1="439.50" x2="90.80" y2="442.30" stroke="#707070" stroke-width="0.9"/>
<text x="89.40" y="451.90" font-size="8.2" text-anchor="middle" fill="#3a3a3a" font-family="'Liberation Sans', Arial, sans-serif" textLength="17.5" lengthAdjust="spacingAndGlyphs">2.00</text>
<line x1="132.60" y1="439.50" x2="132.60" y2="442.30" stroke="#707070" stroke-width="0.9"/>
<text x="131.20" y="451.90" font-size="8.2" text-anchor="middle" fill="#3a3a3a" font-family="'Liberation Sans', Arial, sans-serif" textLength="17.5" lengthAdjust="spacingAndGlyphs">3.00</text>
<line x1="174.40" y1="439.50" x2="174.40" y2="442.30" stroke="#707070" stroke-width="0.9"/>
<text x="173.00" y="451.90" font-size="8.2" text-anchor="middle" fill="#3a3a3a" font-family="'Liberation Sans', Arial, sans-serif" textLength="17.5" lengthAdjust="spacingAndGlyphs">4.00</text>
<line x1="216.20" y1="439.50" x2="216.20" y2="442.30" stroke="#707070" stroke-width="0.9"/>
<text x="214.80" y="451.90" font-size="8.2" text-anchor="middle" fill="#3a3a3a" font-family="'Liberation Sans', Arial, sans-serif" textLength="17.5" lengthAdjust="spacingAndGlyphs">5.00</text>
<line x1="258.00" y1="439.50" x2="258.00" y2="442.30" stroke="#707070" stroke-width="0.9"/>
<text x="256.60" y="451.90" font-size="8.2" text-anchor="middle" fill="#3a3a3a" font-family="'Liberation Sans', Arial, sans-serif" textLength="17.5" lengthAdjust="spacingAndGlyphs">6.00</text>
<line x1="107.30" y1="287.80" x2="107.30" y2="432.50" stroke="#00008c" stroke-width="2.3"/>
<line x1="164.60" y1="287.80" x2="164.60" y2="432.50" stroke="#00008c" stroke-width="2.3"/>
<line x1="248.50" y1="287.80" x2="248.50" y2="432.50" stroke="#00008c" stroke-width="2.3"/>
<polygon points="72.43,436.40 80.73,429.20 80.73,432.10 72.43,439.30" fill="#c86656" stroke="#9c4a40" stroke-width="0.5" stroke-linejoin="round"/>
<polygon points="67.90,436.40 72.43,436.40 80.73,429.20 76.20,429.20" fill="#d9705f" stroke="#9c4a40" stroke-width="0.45" stroke-linejoin="round"/>
<rect x="67.90" y="436.40" width="4.53" height="2.90" fill="#fa8474" stroke="#9c4a40" stroke-width="0.75"/>
<rect x="68.50" y="436.80" width="2.04" height="2.30" fill="#ffffff" opacity="0.10"/>
<polygon points="76.96,434.50 85.26,427.30 85.26,432.10 76.96,439.30" fill="#c86656" stroke="#9c4a40" stroke-width="0.5" stroke-linejoin="round"/>
<polygon points="72.43,434.50 76.96,434.50 85.26,427.30 80.73,427.30" fill="#d9705f" stroke="#9c4a40" stroke-width="0.45" stroke-linejoin="round"/>
<rect x="72.43" y="434.50" width="4.53" height="4.80" fill="#fa8474" stroke="#9c4a40" stroke-width="0.75"/>
<rect x="73.03" y="434.90" width="2.04" height="4.20" fill="#ffffff" opacity="0.10"/>
<polygon points="81.49,432.30 89.79,425.10 89.79,432.10 81.49,439.30" fill="#c86656" stroke="#9c4a40" stroke-width="0.5" stroke-linejoin="round"/>
<polygon points="76.96,432.30 81.49,432.30 89.79,425.10 85.26,425.10" fill="#d9705f" stroke="#9c4a40" stroke-width="0.45" stroke-linejoin="round"/>
<rect x="76.96" y="432.30" width="4.53" height="7.00" fill="#fa8474" stroke="#9c4a40" stroke-width="0.75"/>
<rect x="77.56" y="432.70" width="2.04" height="6.40" fill="#ffffff" opacity="0.10"/>
<polygon points="86.02,423.00 94.32,415.80 94.32,432.10 86.02,439.30" fill="#c86656" stroke="#9c4a40" stroke-width="0.5" stroke-linejoin="round"/>
<polygon points="81.49,423.00 86.02,423.00 94.32,415.80 89.79,415.80" fill="#d9705f" stroke="#9c4a40" stroke-width="0.45" stroke-linejoin="round"/>
<rect x="81.49" y="423.00" width="4.53" height="16.30" fill="#fa8474" stroke="#9c4a40" stroke-width="0.75"/>
<rect x="82.09" y="423.40" width="2.04" height="15.70" fill="#ffffff" opacity="0.10"/>
<polygon points="90.55,407.00 98.85,399.80 98.85,432.10 90.55,439.30" fill="#c86656" stroke="#9c4a40" stroke-width="0.5" stroke-linejoin="round"/>
<polygon points="86.02,407.00 90.55,407.00 98.85,399.80 94.32,399.80" fill="#d9705f" stroke="#9c4a40" stroke-width="0.45" stroke-linejoin="round"/>
<rect x="86.02" y="407.00" width="4.53" height="32.30" fill="#fa8474" stroke="#9c4a40" stroke-width="0.75"/>
<rect x="86.62" y="407.40" width="2.04" height="31.70" fill="#ffffff" opacity="0.10"/>
<polygon points="95.08,400.50 103.38,393.30 103.38,432.10 95.08,439.30" fill="#c86656" stroke="#9c4a40" stroke-width="0.5" stroke-linejoin="round"/>
<polygon points="90.55,400.50 95.08,400.50 103.38,393.30 98.85,393.30" fill="#d9705f" stroke="#9c4a40" stroke-width="0.45" stroke-linejoin="round"/>
<rect x="90.55" y="400.50" width="4.53" height="38.80" fill="#fa8474" stroke="#9c4a40" stroke-width="0.75"/>
<rect x="91.15" y="400.90" width="2.04" height="38.20" fill="#ffffff" opacity="0.10"/>
<polygon points="99.61,387.40 107.91,380.20 107.91,432.10 99.61,439.30" fill="#c86656" stroke="#9c4a40" stroke-width="0.5" stroke-linejoin="round"/>
<polygon points="95.08,387.40 99.61,387.40 107.91,380.20 103.38,380.20" fill="#d9705f" stroke="#9c4a40" stroke-width="0.45" stroke-linejoin="round"/>
<rect x="95.08" y="387.40" width="4.53" height="51.90" fill="#fa8474" stroke="#9c4a40" stroke-width="0.75"/>
<rect x="95.68" y="387.80" width="2.04" height="51.30" fill="#ffffff" opacity="0.10"/>
<polygon points="104.14,370.10 112.44,362.90 112.44,432.10 104.14,439.30" fill="#c86656" stroke="#9c4a40" stroke-width="0.5" stroke-linejoin="round"/>
<polygon points="99.61,370.10 104.14,370.10 112.44,362.90 107.91,362.90" fill="#d9705f" stroke="#9c4a40" stroke-width="0.45" stroke-linejoin="round"/>
<rect x="99.61" y="370.10" width="4.53" height="69.20" fill="#fa8474" stroke="#9c4a40" stroke-width="0.75"/>
<rect x="100.21" y="370.50" width="2.04" height="68.60" fill="#ffffff" opacity="0.10"/>
<polygon points="108.67,357.40 116.97,350.20 116.97,432.10 108.67,439.30" fill="#c86656" stroke="#9c4a40" stroke-width="0.5" stroke-linejoin="round"/>
<polygon points="104.14,357.40 108.67,357.40 116.97,350.20 112.44,350.20" fill="#d9705f" stroke="#9c4a40" stroke-width="0.45" stroke-linejoin="round"/>
<rect x="104.14" y="357.40" width="4.53" height="81.90" fill="#fa8474" stroke="#9c4a40" stroke-width="0.75"/>
<rect x="104.74" y="357.80" width="2.04" height="81.30" fill="#ffffff" opacity="0.10"/>
<polygon points="113.20,345.50 121.50,338.30 121.50,432.10 113.20,439.30" fill="#c86656" stroke="#9c4a40" stroke-width="0.5" stroke-linejoin="round"/>
<polygon points="108.67,345.50 113.20,345.50 121.50,338.30 116.97,338.30" fill="#d9705f" stroke="#9c4a40" stroke-width="0.45" stroke-linejoin="round"/>
<rect x="108.67" y="345.50" width="4.53" height="93.80" fill="#fa8474" stroke="#9c4a40" stroke-width="0.75"/>
<rect x="109.27" y="345.90" width="2.04" height="93.20" fill="#ffffff" opacity="0.10"/>
<polygon points="117.73,335.90 126.03,328.70 126.03,432.10 117.73,439.30" fill="#c86656" stroke="#9c4a40" stroke-width="0.5" stroke-linejoin="round"/>
<polygon points="113.20,335.90 117.73,335.90 126.03,328.70 121.50,328.70" fill="#d9705f" stroke="#9c4a40" stroke-width="0.45" stroke-linejoin="round"/>
<rect x="113.20" y="335.90" width="4.53" height="103.40" fill="#fa8474" stroke="#9c4a40" stroke-width="0.75"/>
<rect x="113.80" y="336.30" width="2.04" height="102.80" fill="#ffffff" opacity="0.10"/>
<polygon points="122.26,316.40 130.56,309.20 130.56,432.10 122.26,439.30" fill="#c86656" stroke="#9c4a40" stroke-width="0.5" stroke-linejoin="round"/>
<polygon points="117.73,316.40 122.26,316.40 130.56,309.20 126.03,309.20" fill="#d9705f" stroke="#9c4a40" stroke-width="0.45" stroke-linejoin="round"/>
<rect x="117.73" y="316.40" width="4.53" height="122.90" fill="#fa8474" stroke="#9c4a40" stroke-width="0.75"/>
<rect x="118.33" y="316.80" width="2.04" height="122.30" fill="#ffffff" opacity="0.10"/>
<polygon points="126.79,306.20 135.09,299.00 135.09,432.10 126.79,439.30" fill="#c86656" stroke="#9c4a40" stroke-width="0.5" stroke-linejoin="round"/>
<polygon points="122.26,306.20 126.79,306.20 135.09,299.00 130.56,299.00" fill="#d9705f" stroke="#9c4a40" stroke-width="0.45" stroke-linejoin="round"/>
<rect x="122.26" y="306.20" width="4.53" height="133.10" fill="#fa8474" stroke="#9c4a40" stroke-width="0.75"/>
<rect x="122.86" y="306.60" width="2.04" height="132.50" fill="#ffffff" opacity="0.10"/>
<polygon points="131.32,308.40 139.62,301.20 139.62,432.10 131.32,439.30" fill="#c86656" stroke="#9c4a40" stroke-width="0.5" stroke-linejoin="round"/>
<polygon points="126.79,308.40 131.32,308.40 139.62,301.20 135.09,301.20" fill="#d9705f" stroke="#9c4a40" stroke-width="0.45" stroke-linejoin="round"/>
<rect x="126.79" y="308.40" width="4.53" height="130.90" fill="#fa8474" stroke="#9c4a40" stroke-width="0.75"/>
<rect x="127.39" y="308.80" width="2.04" height="130.30" fill="#ffffff" opacity="0.10"/>
<polygon points="135.85,309.80 144.15,302.60 144.15,432.10 135.85,439.30" fill="#c86656" stroke="#9c4a40" stroke-width="0.5" stroke-linejoin="round"/>
<polygon points="131.32,309.80 135.85,309.80 144.15,302.60 139.62,302.60" fill="#d9705f" stroke="#9c4a40" stroke-width="0.45" stroke-linejoin="round"/>
<rect x="131.32" y="309.80" width="4.53" height="129.50" fill="#fa8474" stroke="#9c4a40" stroke-width="0.75"/>
<rect x="131.92" y="310.20" width="2.04" height="128.90" fill="#ffffff" opacity="0.10"/>
<polygon points="140.38,310.60 148.68,303.40 148.68,432.10 140.38,439.30" fill="#c86656" stroke="#9c4a40" stroke-width="0.5" stroke-linejoin="round"/>
<polygon points="135.85,310.60 140.38,310.60 148.68,303.40 144.15,303.40" fill="#d9705f" stroke="#9c4a40" stroke-width="0.45" stroke-linejoin="round"/>
<rect x="135.85" y="310.60" width="4.53" height="128.70" fill="#fa8474" stroke="#9c4a40" stroke-width="0.75"/>
<rect x="136.45" y="311.00" width="2.04" height="128.10" fill="#ffffff" opacity="0.10"/>
<polygon points="144.91,302.50 153.21,295.30 153.21,432.10 144.91,439.30" fill="#c86656" stroke="#9c4a40" stroke-width="0.5" stroke-linejoin="round"/>
<polygon points="140.38,302.50 144.91,302.50 153.21,295.30 148.68,295.30" fill="#d9705f" stroke="#9c4a40" stroke-width="0.45" stroke-linejoin="round"/>
<rect x="140.38" y="302.50" width="4.53" height="136.80" fill="#fa8474" stroke="#9c4a40" stroke-width="0.75"/>
<rect x="140.98" y="302.90" width="2.04" height="136.20" fill="#ffffff" opacity="0.10"/>
<polygon points="149.44,306.90 157.74,299.70 157.74,432.10 149.44,439.30" fill="#c86656" stroke="#9c4a40" stroke-width="0.5" stroke-linejoin="round"/>
<polygon points="144.91,306.90 149.44,306.90 157.74,299.70 153.21,299.70" fill="#d9705f" stroke="#9c4a40" stroke-width="0.45" stroke-linejoin="round"/>
<rect x="144.91" y="306.90" width="4.53" height="132.40" fill="#fa8474" stroke="#9c4a40" stroke-width="0.75"/>
<rect x="145.51" y="307.30" width="2.04" height="131.80" fill="#ffffff" opacity="0.10"/>
<polygon points="153.97,310.60 162.27,303.40 162.27,432.10 153.97,439.30" fill="#c86656" stroke="#9c4a40" stroke-width="0.5" stroke-linejoin="round"/>
<polygon points="149.44,310.60 153.97,310.60 162.27,303.40 157.74,303.40" fill="#d9705f" stroke="#9c4a40" stroke-width="0.45" stroke-linejoin="round"/>
<rect x="149.44" y="310.60" width="4.53" height="128.70" fill="#fa8474" stroke="#9c4a40" stroke-width="0.75"/>
<rect x="150.04" y="311.00" width="2.04" height="128.10" fill="#ffffff" opacity="0.10"/>
<polygon points="158.50,330.30 166.80,323.10 166.80,432.10 158.50,439.30" fill="#c86656" stroke="#9c4a40" stroke-width="0.5" stroke-linejoin="round"/>
<polygon points="153.97,330.30 158.50,330.30 166.80,323.10 162.27,323.10" fill="#d9705f" stroke="#9c4a40" stroke-width="0.45" stroke-linejoin="round"/>
<rect x="153.97" y="330.30" width="4.53" height="109.00" fill="#fa8474" stroke="#9c4a40" stroke-width="0.75"/>
<rect x="154.57" y="330.70" width="2.04" height="108.40" fill="#ffffff" opacity="0.10"/>
<polygon points="163.03,330.40 171.33,323.20 171.33,432.10 163.03,439.30" fill="#c86656" stroke="#9c4a40" stroke-width="0.5" stroke-linejoin="round"/>
<polygon points="158.50,330.40 163.03,330.40 171.33,323.20 166.80,323.20" fill="#d9705f" stroke="#9c4a40" stroke-width="0.45" stroke-linejoin="round"/>
<rect x="158.50" y="330.40" width="4.53" height="108.90" fill="#fa8474" stroke="#9c4a40" stroke-width="0.75"/>
<rect x="159.10" y="330.80" width="2.04" height="108.30" fill="#ffffff" opacity="0.10"/>
<polygon points="167.56,334.80 175.86,327.60 175.86,432.10 167.56,439.30" fill="#c86656" stroke="#9c4a40" stroke-width="0.5" stroke-linejoin="round"/>
<polygon points="163.03,334.80 167.56,334.80 175.86,327.60 171.33,327.60" fill="#d9705f" stroke="#9c4a40" stroke-width="0.45" stroke-linejoin="round"/>
<rect x="163.03" y="334.80" width="4.53" height="104.50" fill="#fa8474" stroke="#9c4a40" stroke-width="0.75"/>
<rect x="163.63" y="335.20" width="2.04" height="103.90" fill="#ffffff" opacity="0.10"/>
<polygon points="172.09,350.20 180.39,343.00 180.39,432.10 172.09,439.30" fill="#c86656" stroke="#9c4a40" stroke-width="0.5" stroke-linejoin="round"/>
<polygon points="167.56,350.20 172.09,350.20 180.39,343.00 175.86,343.00" fill="#d9705f" stroke="#9c4a40" stroke-width="0.45" stroke-linejoin="round"/>
<rect x="167.56" y="350.20" width="4.53" height="89.10" fill="#fa8474" stroke="#9c4a40" stroke-width="0.75"/>
<rect x="168.16" y="350.60" width="2.04" height="88.50" fill="#ffffff" opacity="0.10"/>
<polygon points="176.62,345.00 184.92,337.80 184.92,432.10 176.62,439.30" fill="#c86656" stroke="#9c4a40" stroke-width="0.5" stroke-linejoin="round"/>
<polygon points="172.09,345.00 176.62,345.00 184.92,337.80 180.39,337.80" fill="#d9705f" stroke="#9c4a40" stroke-width="0.45" stroke-linejoin="round"/>
<rect x="172.09" y="345.00" width="4.53" height="94.30" fill="#fa8474" stroke="#9c4a40" stroke-width="0.75"/>
<rect x="172.69" y="345.40" width="2.04" height="93.70" fill="#ffffff" opacity="0.10"/>
<polygon points="181.15,355.30 189.45,348.10 189.45,432.10 181.15,439.30" fill="#c86656" stroke="#9c4a40" stroke-width="0.5" stroke-linejoin="round"/>
<polygon points="176.62,355.30 181.15,355.30 189.45,348.10 184.92,348.10" fill="#d9705f" stroke="#9c4a40" stroke-width="0.45" stroke-linejoin="round"/>
<rect x="176.62" y="355.30" width="4.53" height="84.00" fill="#fa8474" stroke="#9c4a40" stroke-width="0.75"/>
<rect x="177.22" y="355.70" width="2.04" height="83.40" fill="#ffffff" opacity="0.10"/>
<polygon points="185.68,369.30 193.98,362.10 193.98,432.10 185.68,439.30" fill="#c86656" stroke="#9c4a40" stroke-width="0.5" stroke-linejoin="round"/>
<polygon points="181.15,369.30 185.68,369.30 193.98,362.10 189.45,362.10" fill="#d9705f" stroke="#9c4a40" stroke-width="0.45" stroke-linejoin="round"/>
<rect x="181.15" y="369.30" width="4.53" height="70.00" fill="#fa8474" stroke="#9c4a40" stroke-width="0.75"/>
<rect x="181.75" y="369.70" width="2.04" height="69.40" fill="#ffffff" opacity="0.10"/>
<polygon points="190.21,377.30 198.51,370.10 198.51,432.10 190.21,439.30" fill="#c86656" stroke="#9c4a40" stroke-width="0.5" stroke-linejoin="round"/>
<polygon points="185.68,377.30 190.21,377.30 198.51,370.10 193.98,370.10" fill="#d9705f" stroke="#9c4a40" stroke-width="0.45" stroke-linejoin="round"/>
<rect x="185.68" y="377.30" width="4.53" height="62.00" fill="#fa8474" stroke="#9c4a40" stroke-width="0.75"/>
<rect x="186.28" y="377.70" width="2.04" height="61.40" fill="#ffffff" opacity="0.10"/>
<polygon points="194.74,384.30 203.04,377.10 203.04,432.10 194.74,439.30" fill="#c86656" stroke="#9c4a40" stroke-width="0.5" stroke-linejoin="round"/>
<polygon points="190.21,384.30 194.74,384.30 203.04,377.10 198.51,377.10" fill="#d9705f" stroke="#9c4a40" stroke-width="0.45" stroke-linejoin="round"/>
<rect x="190.21" y="384.30" width="4.53" height="55.00" fill="#fa8474" stroke="#9c4a40" stroke-width="0.75"/>
<rect x="190.81" y="384.70" width="2.04" height="54.40" fill="#ffffff" opacity="0.10"/>
<polygon points="199.27,392.00 207.57,384.80 207.57,432.10 199.27,439.30" fill="#c86656" stroke="#9c4a40" stroke-width="0.5" stroke-linejoin="round"/>
<polygon points="194.74,392.00 199.27,392.00 207.57,384.80 203.04,384.80" fill="#d9705f" stroke="#9c4a40" stroke-width="0.45" stroke-linejoin="round"/>
<rect x="194.74" y="392.00" width="4.53" height="47.30" fill="#fa8474" stroke="#9c4a40" stroke-width="0.75"/>
<rect x="195.34" y="392.40" width="2.04" height="46.70" fill="#ffffff" opacity="0.10"/>
<polygon points="203.80,387.60 212.10,380.40 212.10,432.10 203.80,439.30" fill="#c86656" stroke="#9c4a40" stroke-width="0.5" stroke-linejoin="round"/>
<polygon points="199.27,387.60 203.80,387.60 212.10,380.40 207.57,380.40" fill="#d9705f" stroke="#9c4a40" stroke-width="0.45" stroke-linejoin="round"/>
<rect x="199.27" y="387.60" width="4.53" height="51.70" fill="#fa8474" stroke="#9c4a40" stroke-width="0.75"/>
<rect x="199.87" y="388.00" width="2.04" height="51.10" fill="#ffffff" opacity="0.10"/>
<polygon points="208.33,396.40 216.63,389.20 216.63,432.10 208.33,439.30" fill="#c86656" stroke="#9c4a40" stroke-width="0.5" stroke-linejoin="round"/>
<polygon points="203.80,396.40 208.33,396.40 216.63,389.20 212.10,389.20" fill="#d9705f" stroke="#9c4a40" stroke-width="0.45" stroke-linejoin="round"/>
<rect x="203.80" y="396.40" width="4.53" height="42.90" fill="#fa8474" stroke="#9c4a40" stroke-width="0.75"/>
<rect x="204.40" y="396.80" width="2.04" height="42.30" fill="#ffffff" opacity="0.10"/>
<polygon points="212.86,402.90 221.16,395.70 221.16,432.10 212.86,439.30" fill="#c86656" stroke="#9c4a40" stroke-width="0.5" stroke-linejoin="round"/>
<polygon points="208.33,402.90 212.86,402.90 221.16,395.70 216.63,395.70" fill="#d9705f" stroke="#9c4a40" stroke-width="0.45" stroke-linejoin="round"/>
<rect x="208.33" y="402.90" width="4.53" height="36.40" fill="#fa8474" stroke="#9c4a40" stroke-width="0.75"/>
<rect x="208.93" y="403.30" width="2.04" height="35.80" fill="#ffffff" opacity="0.10"/>
<polygon points="217.39,409.50 225.69,402.30 225.69,432.10 217.39,439.30" fill="#c86656" stroke="#9c4a40" stroke-width="0.5" stroke-linejoin="round"/>
<polygon points="212.86,409.50 217.39,409.50 225.69,402.30 221.16,402.30" fill="#d9705f" stroke="#9c4a40" stroke-width="0.45" stroke-linejoin="round"/>
<rect x="212.86" y="409.50" width="4.53" height="29.80" fill="#fa8474" stroke="#9c4a40" stroke-width="0.75"/>
<rect x="213.46" y="409.90" width="2.04" height="29.20" fill="#ffffff" opacity="0.10"/>
<polygon points="221.92,411.70 230.22,404.50 230.22,432.10 221.92,439.30" fill="#c86656" stroke="#9c4a40" stroke-width="0.5" stroke-linejoin="round"/>
<polygon points="217.39,411.70 221.92,411.70 230.22,404.50 225.69,404.50" fill="#d9705f" stroke="#9c4a40" stroke-width="0.45" stroke-linejoin="round"/>
<rect x="217.39" y="411.70" width="4.53" height="27.60" fill="#fa8474" stroke="#9c4a40" stroke-width="0.75"/>
<rect x="217.99" y="412.10" width="2.04" height="27.00" fill="#ffffff" opacity="0.10"/>
<polygon points="226.45,413.90 234.75,406.70 234.75,432.10 226.45,439.30" fill="#c86656" stroke="#9c4a40" stroke-width="0.5" stroke-linejoin="round"/>
<polygon points="221.92,413.90 226.45,413.90 234.75,406.70 230.22,406.70" fill="#d9705f" stroke="#9c4a40" stroke-width="0.45" stroke-linejoin="round"/>
<rect x="221.92" y="413.90" width="4.53" height="25.40" fill="#fa8474" stroke="#9c4a40" stroke-width="0.75"/>
<rect x="222.52" y="414.30" width="2.04" height="24.80" fill="#ffffff" opacity="0.10"/>
<polygon points="230.98,416.10 239.28,408.90 239.28,432.10 230.98,439.30" fill="#c86656" stroke="#9c4a40" stroke-width="0.5" stroke-linejoin="round"/>
<polygon points="226.45,416.10 230.98,416.10 239.28,408.90 234.75,408.90" fill="#d9705f" stroke="#9c4a40" stroke-width="0.45" stroke-linejoin="round"/>
<rect x="226.45" y="416.10" width="4.53" height="23.20" fill="#fa8474" stroke="#9c4a40" stroke-width="0.75"/>
<rect x="227.05" y="416.50" width="2.04" height="22.60" fill="#ffffff" opacity="0.10"/>
<polygon points="235.51,419.00 243.81,411.80 243.81,432.10 235.51,439.30" fill="#c86656" stroke="#9c4a40" stroke-width="0.5" stroke-linejoin="round"/>
<polygon points="230.98,419.00 235.51,419.00 243.81,411.80 239.28,411.80" fill="#d9705f" stroke="#9c4a40" stroke-width="0.45" stroke-linejoin="round"/>
<rect x="230.98" y="419.00" width="4.53" height="20.30" fill="#fa8474" stroke="#9c4a40" stroke-width="0.75"/>
<rect x="231.58" y="419.40" width="2.04" height="19.70" fill="#ffffff" opacity="0.10"/>
<polygon points="240.04,420.50 248.34,413.30 248.34,432.10 240.04,439.30" fill="#c86656" stroke="#9c4a40" stroke-width="0.5" stroke-linejoin="round"/>
<polygon points="235.51,420.50 240.04,420.50 248.34,413.30 243.81,413.30" fill="#d9705f" stroke="#9c4a40" stroke-width="0.45" stroke-linejoin="round"/>
<rect x="235.51" y="420.50" width="4.53" height="18.80" fill="#fa8474" stroke="#9c4a40" stroke-width="0.75"/>
<rect x="236.11" y="420.90" width="2.04" height="18.20" fill="#ffffff" opacity="0.10"/>
<polygon points="244.57,424.10 252.87,416.90 252.87,432.10 244.57,439.30" fill="#c86656" stroke="#9c4a40" stroke-width="0.5" stroke-linejoin="round"/>
<polygon points="240.04,424.10 244.57,424.10 252.87,416.90 248.34,416.90" fill="#d9705f" stroke="#9c4a40" stroke-width="0.45" stroke-linejoin="round"/>
<rect x="240.04" y="424.10" width="4.53" height="15.20" fill="#fa8474" stroke="#9c4a40" stroke-width="0.75"/>
<rect x="240.64" y="424.50" width="2.04" height="14.60" fill="#ffffff" opacity="0.10"/>
<polygon points="249.10,424.50 257.40,417.30 257.40,432.10 249.10,439.30" fill="#c86656" stroke="#9c4a40" stroke-width="0.5" stroke-linejoin="round"/>
<polygon points="244.57,424.50 249.10,424.50 257.40,417.30 252.87,417.30" fill="#d9705f" stroke="#9c4a40" stroke-width="0.45" stroke-linejoin="round"/>
<rect x="244.57" y="424.50" width="4.53" height="14.80" fill="#fa8474" stroke="#9c4a40" stroke-width="0.75"/>
<rect x="245.17" y="424.90" width="2.04" height="14.20" fill="#ffffff" opacity="0.10"/>
<polygon points="253.63,427.50 261.93,420.30 261.93,432.10 253.63,439.30" fill="#c86656" stroke="#9c4a40" stroke-width="0.5" stroke-linejoin="round"/>
<polygon points="249.10,427.50 253.63,427.50 261.93,420.30 257.40,420.30" fill="#d9705f" stroke="#9c4a40" stroke-width="0.45" stroke-linejoin="round"/>
<rect x="249.10" y="427.50" width="4.53" height="11.80" fill="#fa8474" stroke="#9c4a40" stroke-width="0.75"/>
<rect x="249.70" y="427.90" width="2.04" height="11.20" fill="#ffffff" opacity="0.10"/>
<polygon points="258.16,429.00 266.46,421.80 266.46,432.10 258.16,439.30" fill="#c86656" stroke="#9c4a40" stroke-width="0.5" stroke-linejoin="round"/>
<polygon points="253.63,429.00 258.16,429.00 266.46,421.80 261.93,421.80" fill="#d9705f" stroke="#9c4a40" stroke-width="0.45" stroke-linejoin="round"/>
<rect x="253.63" y="429.00" width="4.53" height="10.30" fill="#fa8474" stroke="#9c4a40" stroke-width="0.75"/>
<rect x="254.23" y="429.40" width="2.04" height="9.70" fill="#ffffff" opacity="0.10"/>
<polygon points="262.69,432.70 270.99,425.50 270.99,432.10 262.69,439.30" fill="#c86656" stroke="#9c4a40" stroke-width="0.5" stroke-linejoin="round"/>
<polygon points="258.16,432.70 262.69,432.70 270.99,425.50 266.46,425.50" fill="#d9705f" stroke="#9c4a40" stroke-width="0.45" stroke-linejoin="round"/>
<rect x="258.16" y="432.70" width="4.53" height="6.60" fill="#fa8474" stroke="#9c4a40" stroke-width="0.75"/>
<rect x="258.76" y="433.10" width="2.04" height="6.00" fill="#ffffff" opacity="0.10"/>
<polygon points="267.22,433.70 275.52,426.50 275.52,432.10 267.22,439.30" fill="#c86656" stroke="#9c4a40" stroke-width="0.5" stroke-linejoin="round"/>
<polygon points="262.69,433.70 267.22,433.70 275.52,426.50 270.99,426.50" fill="#d9705f" stroke="#9c4a40" stroke-width="0.45" stroke-linejoin="round"/>
<rect x="262.69" y="433.70" width="4.53" height="5.60" fill="#fa8474" stroke="#9c4a40" stroke-width="0.75"/>
<rect x="263.29" y="434.10" width="2.04" height="5.00" fill="#ffffff" opacity="0.10"/>
<polygon points="271.75,433.30 280.05,426.10 280.05,432.10 271.75,439.30" fill="#c86656" stroke="#9c4a40" stroke-width="0.5" stroke-linejoin="round"/>
<polygon points="267.22,433.30 271.75,433.30 280.05,426.10 275.52,426.10" fill="#d9705f" stroke="#9c4a40" stroke-width="0.45" stroke-linejoin="round"/>
<rect x="267.22" y="433.30" width="4.53" height="6.00" fill="#fa8474" stroke="#9c4a40" stroke-width="0.75"/>
<rect x="267.82" y="433.70" width="2.04" height="5.40" fill="#ffffff" opacity="0.10"/>
<polygon points="276.28,433.30 284.58,426.10 284.58,432.10 276.28,439.30" fill="#c86656" stroke="#9c4a40" stroke-width="0.5" stroke-linejoin="round"/>
<polygon points="271.75,433.30 276.28,433.30 284.58,426.10 280.05,426.10" fill="#d9705f" stroke="#9c4a40" stroke-width="0.45" stroke-linejoin="round"/>
<rect x="271.75" y="433.30" width="4.53" height="6.00" fill="#fa8474" stroke="#9c4a40" stroke-width="0.75"/>
<rect x="272.35" y="433.70" width="2.04" height="5.40" fill="#ffffff" opacity="0.10"/>
<polygon points="280.81,435.20 289.11,428.00 289.11,432.10 280.81,439.30" fill="#c86656" stroke="#9c4a40" stroke-width="0.5" stroke-linejoin="round"/>
<polygon points="276.28,435.20 280.81,435.20 289.11,428.00 284.58,428.00" fill="#d9705f" stroke="#9c4a40" stroke-width="0.45" stroke-linejoin="round"/>
<rect x="276.28" y="435.20" width="4.53" height="4.10" fill="#fa8474" stroke="#9c4a40" stroke-width="0.75"/>
<rect x="276.88" y="435.60" width="2.04" height="3.50" fill="#ffffff" opacity="0.10"/>
<polygon points="285.34,435.70 293.64,428.50 293.64,432.10 285.34,439.30" fill="#c86656" stroke="#9c4a40" stroke-width="0.5" stroke-linejoin="round"/>
<polygon points="280.81,435.70 285.34,435.70 293.64,428.50 289.11,428.50" fill="#d9705f" stroke="#9c4a40" stroke-width="0.45" stroke-linejoin="round"/>
<rect x="280.81" y="435.70" width="4.53" height="3.60" fill="#fa8474" stroke="#9c4a40" stroke-width="0.75"/>
<rect x="281.41" y="436.10" width="2.04" height="3.00" fill="#ffffff" opacity="0.10"/>
<polyline points="98.50,439.80 98.50,294.60 107.30,287.80" fill="none" stroke="#00008c" stroke-width="2.3" stroke-linejoin="miter"/>
<line x1="107.30" y1="286.70" x2="107.30" y2="293.80" stroke="#00008c" stroke-width="2.3"/>
<polyline points="155.80,439.80 155.80,294.60 164.60,287.80" fill="none" stroke="#00008c" stroke-width="2.3" stroke-linejoin="miter"/>
<line x1="164.60" y1="286.70" x2="164.60" y2="293.80" stroke="#00008c" stroke-width="2.3"/>
<polyline points="239.70,439.80 239.70,294.60 248.50,287.80" fill="none" stroke="#00008c" stroke-width="2.3" stroke-linejoin="miter"/>
<line x1="248.50" y1="286.70" x2="248.50" y2="293.80" stroke="#00008c" stroke-width="2.3"/>
<line x1="98.10" y1="391.80" x2="102.60" y2="391.80" stroke="#000000" stroke-width="1.3"/>
<rect x="102.60" y="387.30" width="47.90" height="9.00" fill="#ffffff" stroke="#2a2a2a" stroke-width="0.9"/>
<text x="103.90" y="394.53" font-size="7.7" text-anchor="start" fill="#262c94" font-family="'Liberation Sans', Arial, sans-serif" textLength="42.5" lengthAdjust="spacingAndGlyphs">5% = 2.19</text>
<line x1="234.60" y1="370.80" x2="239.10" y2="370.80" stroke="#000000" stroke-width="1.3"/>
<rect x="181.40" y="366.40" width="53.20" height="8.80" fill="#ffffff" stroke="#2a2a2a" stroke-width="0.9"/>
<text x="182.70" y="373.53" font-size="7.7" text-anchor="start" fill="#262c94" font-family="'Liberation Sans', Arial, sans-serif" textLength="47.8" lengthAdjust="spacingAndGlyphs">95% = 5.56</text>
<line x1="156.00" y1="381.60" x2="160.50" y2="381.60" stroke="#000000" stroke-width="1.3"/>
<rect x="160.50" y="376.80" width="57.20" height="9.60" fill="#ffffff" stroke="#2a2a2a" stroke-width="0.9"/>
<text x="161.80" y="384.33" font-size="7.7" text-anchor="start" fill="#262c94" font-family="'Liberation Sans', Arial, sans-serif" textLength="51.8" lengthAdjust="spacingAndGlyphs">Mean = 3.57</text>
<text x="175.00" y="277.40" font-size="10.6" text-anchor="middle" fill="#1a1a1a" font-family="'Liberation Sans', Arial, sans-serif" font-weight="bold" textLength="53.3" lengthAdjust="spacingAndGlyphs">Children</text>
<text x="18.40" y="366.20" font-size="12" text-anchor="middle" fill="#3a3a3a" font-family="'Liberation Sans', Arial, sans-serif" textLength="45.0" lengthAdjust="spacingAndGlyphs" transform="rotate(-90 18.40 366.20)">Probability</text>
<text x="335.00" y="360.10" font-size="12" text-anchor="middle" fill="#3a3a3a" font-family="'Liberation Sans', Arial, sans-serif" textLength="46.0" lengthAdjust="spacingAndGlyphs" transform="rotate(90 335.00 360.10)">Frequency</text>
<polygon points="49.00,433.60 57.00,439.20 49.00,444.80" fill="#5a5a5a" stroke="#2e2e2e" stroke-width="0.7" stroke-linejoin="round"/>
<polygon points="49.60,434.80 55.60,439.00 49.60,439.00" fill="#8c8c8c"/>
<polygon points="68.00,433.60 60.00,439.20 68.00,444.80" fill="#d6d6ea" stroke="#70707c" stroke-width="0.8" stroke-linejoin="round"/>
<rect x="348.20" y="264.90" width="337.90" height="187.90" fill="#f8f8f8"/>
<rect x="350.70" y="267.40" width="332.90" height="182.90" fill="#efefef"/>
<line x1="350.20" y1="267.40" x2="684.10" y2="267.40" stroke="#8e8e8e" stroke-width="1.2"/>
<line x1="350.70" y1="267.40" x2="350.70" y2="450.30" stroke="#8e8e8e" stroke-width="1.2"/>
<line x1="350.20" y1="450.30" x2="684.10" y2="450.30" stroke="#9a9a9a" stroke-width="1.6"/>
<line x1="683.40" y1="267.40" x2="683.40" y2="450.30" stroke="#b8b8b8" stroke-width="1.2"/>
<rect x="411.60" y="285.00" width="229.30" height="140.60" fill="#c9c9bd"/>
<rect x="411.60" y="286.80" width="227.50" height="138.80" fill="#fffff2"/>
<polygon points="411.60,285.00 411.60,425.60 402.20,431.90 402.20,291.30" fill="#c9c9bf"/>
<polygon points="402.20,291.30 402.20,431.90 399.50,434.20 399.50,293.60" fill="#f7f7ee" stroke="#d4d4c8" stroke-width="0.4" stroke-linejoin="round"/>
<polygon points="411.60,285.00 402.20,291.30 399.50,293.60 409.70,286.20" fill="#dcdcd2"/>
<polygon points="411.60,425.60 639.70,425.60 630.30,431.90 402.20,431.90" fill="#d6d6cc"/>
<polygon points="402.20,431.90 630.30,431.90 627.60,434.20 399.50,434.20" fill="#fafaf2" stroke="#d8d8cc" stroke-width="0.4" stroke-linejoin="round"/>
<polygon points="639.70,425.60 640.90,425.60 628.80,434.20 627.60,434.20 630.30,431.90" fill="#c6c6ba"/>
<line x1="411.60" y1="425.60" x2="402.20" y2="431.90" stroke="#b4b4a8" stroke-width="0.9"/>
<line x1="402.20" y1="431.90" x2="399.00" y2="432.20" stroke="#a0a096" stroke-width="0.9"/>
<text x="394.50" y="434.65" font-size="8.2" text-anchor="end" fill="#3a3a3a" font-family="'Liberation Sans', Arial, sans-serif" textLength="17.5" lengthAdjust="spacingAndGlyphs">0.00</text>
<text x="660.00" y="426.80" font-size="8.2" text-anchor="end" fill="#3a3a3a" font-family="'Liberation Sans', Arial, sans-serif" textLength="5.0" lengthAdjust="spacingAndGlyphs">0</text>
<line x1="639.70" y1="425.60" x2="641.90" y2="424.40" stroke="#b8b8ac" stroke-width="0.8"/>
<line x1="411.60" y1="399.72" x2="639.70" y2="399.72" stroke="#aeaea2" stroke-width="1"/>
<line x1="411.60" y1="399.72" x2="402.20" y2="406.02" stroke="#b4b4a8" stroke-width="0.9"/>
<line x1="402.20" y1="406.02" x2="399.00" y2="406.32" stroke="#a0a096" stroke-width="0.9"/>
<text x="394.50" y="408.77" font-size="8.2" text-anchor="end" fill="#3a3a3a" font-family="'Liberation Sans', Arial, sans-serif" textLength="17.5" lengthAdjust="spacingAndGlyphs">0.01</text>
<text x="660.00" y="400.92" font-size="8.2" text-anchor="end" fill="#3a3a3a" font-family="'Liberation Sans', Arial, sans-serif" textLength="15.6" lengthAdjust="spacingAndGlyphs">100</text>
<line x1="639.70" y1="399.72" x2="641.90" y2="398.52" stroke="#b8b8ac" stroke-width="0.8"/>
<line x1="411.60" y1="373.84" x2="639.70" y2="373.84" stroke="#aeaea2" stroke-width="1"/>
<line x1="411.60" y1="373.84" x2="402.20" y2="380.14" stroke="#b4b4a8" stroke-width="0.9"/>
<line x1="402.20" y1="380.14" x2="399.00" y2="380.44" stroke="#a0a096" stroke-width="0.9"/>
<text x="394.50" y="382.89" font-size="8.2" text-anchor="end" fill="#3a3a3a" font-family="'Liberation Sans', Arial, sans-serif" textLength="17.5" lengthAdjust="spacingAndGlyphs">0.02</text>
<text x="660.00" y="375.04" font-size="8.2" text-anchor="end" fill="#3a3a3a" font-family="'Liberation Sans', Arial, sans-serif" textLength="15.6" lengthAdjust="spacingAndGlyphs">200</text>
<line x1="639.70" y1="373.84" x2="641.90" y2="372.64" stroke="#b8b8ac" stroke-width="0.8"/>
<line x1="411.60" y1="347.96" x2="639.70" y2="347.96" stroke="#aeaea2" stroke-width="1"/>
<line x1="411.60" y1="347.96" x2="402.20" y2="354.26" stroke="#b4b4a8" stroke-width="0.9"/>
<line x1="402.20" y1="354.26" x2="399.00" y2="354.56" stroke="#a0a096" stroke-width="0.9"/>
<text x="394.50" y="357.01" font-size="8.2" text-anchor="end" fill="#3a3a3a" font-family="'Liberation Sans', Arial, sans-serif" textLength="17.5" lengthAdjust="spacingAndGlyphs">0.03</text>
<text x="660.00" y="349.16" font-size="8.2" text-anchor="end" fill="#3a3a3a" font-family="'Liberation Sans', Arial, sans-serif" textLength="15.6" lengthAdjust="spacingAndGlyphs">300</text>
<line x1="639.70" y1="347.96" x2="641.90" y2="346.76" stroke="#b8b8ac" stroke-width="0.8"/>
<line x1="411.60" y1="322.08" x2="639.70" y2="322.08" stroke="#aeaea2" stroke-width="1"/>
<line x1="411.60" y1="322.08" x2="402.20" y2="328.38" stroke="#b4b4a8" stroke-width="0.9"/>
<line x1="402.20" y1="328.38" x2="399.00" y2="328.68" stroke="#a0a096" stroke-width="0.9"/>
<text x="394.50" y="331.13" font-size="8.2" text-anchor="end" fill="#3a3a3a" font-family="'Liberation Sans', Arial, sans-serif" textLength="17.5" lengthAdjust="spacingAndGlyphs">0.04</text>
<text x="660.00" y="323.28" font-size="8.2" text-anchor="end" fill="#3a3a3a" font-family="'Liberation Sans', Arial, sans-serif" textLength="15.6" lengthAdjust="spacingAndGlyphs">400</text>
<line x1="639.70" y1="322.08" x2="641.90" y2="320.88" stroke="#b8b8ac" stroke-width="0.8"/>
<line x1="411.60" y1="296.20" x2="639.70" y2="296.20" stroke="#aeaea2" stroke-width="1"/>
<line x1="411.60" y1="296.20" x2="402.20" y2="302.50" stroke="#b4b4a8" stroke-width="0.9"/>
<line x1="402.20" y1="302.50" x2="399.00" y2="302.80" stroke="#a0a096" stroke-width="0.9"/>
<text x="394.50" y="305.25" font-size="8.2" text-anchor="end" fill="#3a3a3a" font-family="'Liberation Sans', Arial, sans-serif" textLength="17.5" lengthAdjust="spacingAndGlyphs">0.05</text>
<text x="660.00" y="297.40" font-size="8.2" text-anchor="end" fill="#3a3a3a" font-family="'Liberation Sans', Arial, sans-serif" textLength="15.6" lengthAdjust="spacingAndGlyphs">500</text>
<line x1="639.70" y1="296.20" x2="641.90" y2="295.00" stroke="#b8b8ac" stroke-width="0.8"/>
<line x1="418.90" y1="432.10" x2="418.90" y2="434.90" stroke="#707070" stroke-width="0.9"/>
<text x="418.50" y="443.70" font-size="8.2" text-anchor="middle" fill="#3a3a3a" font-family="'Liberation Sans', Arial, sans-serif" textLength="17.5" lengthAdjust="spacingAndGlyphs">0.20</text>
<line x1="457.80" y1="432.10" x2="457.80" y2="434.90" stroke="#707070" stroke-width="0.9"/>
<text x="457.40" y="443.70" font-size="8.2" text-anchor="middle" fill="#3a3a3a" font-family="'Liberation Sans', Arial, sans-serif" textLength="17.5" lengthAdjust="spacingAndGlyphs">0.40</text>
<line x1="496.70" y1="432.10" x2="496.70" y2="434.90" stroke="#707070" stroke-width="0.9"/>
<text x="496.30" y="443.70" font-size="8.2" text-anchor="middle" fill="#3a3a3a" font-family="'Liberation Sans', Arial, sans-serif" textLength="17.5" lengthAdjust="spacingAndGlyphs">0.60</text>
<line x1="535.60" y1="432.10" x2="535.60" y2="434.90" stroke="#707070" stroke-width="0.9"/>
<text x="535.20" y="443.70" font-size="8.2" text-anchor="middle" fill="#3a3a3a" font-family="'Liberation Sans', Arial, sans-serif" textLength="17.5" lengthAdjust="spacingAndGlyphs">0.80</text>
<line x1="574.50" y1="432.10" x2="574.50" y2="434.90" stroke="#707070" stroke-width="0.9"/>
<text x="574.10" y="443.70" font-size="8.2" text-anchor="middle" fill="#3a3a3a" font-family="'Liberation Sans', Arial, sans-serif" textLength="17.5" lengthAdjust="spacingAndGlyphs">1.00</text>
<line x1="613.40" y1="432.10" x2="613.40" y2="434.90" stroke="#707070" stroke-width="0.9"/>
<text x="613.00" y="443.70" font-size="8.2" text-anchor="middle" fill="#3a3a3a" font-family="'Liberation Sans', Arial, sans-serif" textLength="17.5" lengthAdjust="spacingAndGlyphs">1.20</text>
<line x1="460.00" y1="287.20" x2="460.00" y2="425.30" stroke="#00008c" stroke-width="2.3"/>
<line x1="513.90" y1="287.20" x2="513.90" y2="425.30" stroke="#00008c" stroke-width="2.3"/>
<line x1="587.90" y1="287.20" x2="587.90" y2="425.30" stroke="#00008c" stroke-width="2.3"/>
<polygon points="412.37,431.60 420.67,424.60 420.67,424.90 412.37,431.90" fill="#1a2eb8" stroke="#0c1a8c" stroke-width="0.5" stroke-linejoin="round"/>
<polygon points="408.00,431.60 412.37,431.60 420.67,424.60 416.30,424.60" fill="#1c34c8" stroke="#0c1a8c" stroke-width="0.45" stroke-linejoin="round"/>
<polygon points="416.74,431.40 425.04,424.40 425.04,424.90 416.74,431.90" fill="#1a2eb8" stroke="#0c1a8c" stroke-width="0.5" stroke-linejoin="round"/>
<polygon points="412.37,431.40 416.74,431.40 425.04,424.40 420.67,424.40" fill="#1c34c8" stroke="#0c1a8c" stroke-width="0.45" stroke-linejoin="round"/>
<rect x="412.37" y="431.40" width="4.37" height="0.50" fill="#1a3cf4" stroke="#0c1a8c" stroke-width="0.75"/>
<rect x="412.97" y="431.80" width="1.97" height="0.00" fill="#ffffff" opacity="0.10"/>
<polygon points="421.11,430.90 429.41,423.90 429.41,424.90 421.11,431.90" fill="#1a2eb8" stroke="#0c1a8c" stroke-width="0.5" stroke-linejoin="round"/>
<polygon points="416.74,430.90 421.11,430.90 429.41,423.90 425.04,423.90" fill="#1c34c8" stroke="#0c1a8c" stroke-width="0.45" stroke-linejoin="round"/>
<rect x="416.74" y="430.90" width="4.37" height="1.00" fill="#1a3cf4" stroke="#0c1a8c" stroke-width="0.75"/>
<rect x="417.34" y="431.30" width="1.97" height="0.40" fill="#ffffff" opacity="0.10"/>
<polygon points="425.48,429.90 433.78,422.90 433.78,424.90 425.48,431.90" fill="#1a2eb8" stroke="#0c1a8c" stroke-width="0.5" stroke-linejoin="round"/>
<polygon points="421.11,429.90 425.48,429.90 433.78,422.90 429.41,422.90" fill="#1c34c8" stroke="#0c1a8c" stroke-width="0.45" stroke-linejoin="round"/>
<rect x="421.11" y="429.90" width="4.37" height="2.00" fill="#1a3cf4" stroke="#0c1a8c" stroke-width="0.75"/>
<rect x="421.71" y="430.30" width="1.97" height="1.40" fill="#ffffff" opacity="0.10"/>
<polygon points="429.85,428.40 438.15,421.40 438.15,424.90 429.85,431.90" fill="#1a2eb8" stroke="#0c1a8c" stroke-width="0.5" stroke-linejoin="round"/>
<polygon points="425.48,428.40 429.85,428.40 438.15,421.40 433.78,421.40" fill="#1c34c8" stroke="#0c1a8c" stroke-width="0.45" stroke-linejoin="round"/>
<rect x="425.48" y="428.40" width="4.37" height="3.50" fill="#1a3cf4" stroke="#0c1a8c" stroke-width="0.75"/>
<rect x="426.08" y="428.80" width="1.97" height="2.90" fill="#ffffff" opacity="0.10"/>
<polygon points="434.22,425.50 442.52,418.50 442.52,424.90 434.22,431.90" fill="#1a2eb8" stroke="#0c1a8c" stroke-width="0.5" stroke-linejoin="round"/>
<polygon points="429.85,425.50 434.22,425.50 442.52,418.50 438.15,418.50" fill="#1c34c8" stroke="#0c1a8c" stroke-width="0.45" stroke-linejoin="round"/>
<rect x="429.85" y="425.50" width="4.37" height="6.40" fill="#1a3cf4" stroke="#0c1a8c" stroke-width="0.75"/>
<rect x="430.45" y="425.90" width="1.97" height="5.80" fill="#ffffff" opacity="0.10"/>
<polygon points="438.59,413.10 446.89,406.10 446.89,424.90 438.59,431.90" fill="#1a2eb8" stroke="#0c1a8c" stroke-width="0.5" stroke-linejoin="round"/>
<polygon points="434.22,413.10 438.59,413.10 446.89,406.10 442.52,406.10" fill="#1c34c8" stroke="#0c1a8c" stroke-width="0.45" stroke-linejoin="round"/>
<rect x="434.22" y="413.10" width="4.37" height="18.80" fill="#1a3cf4" stroke="#0c1a8c" stroke-width="0.75"/>
<rect x="434.82" y="413.50" width="1.97" height="18.20" fill="#ffffff" opacity="0.10"/>
<polygon points="442.96,408.70 451.26,401.70 451.26,424.90 442.96,431.90" fill="#1a2eb8" stroke="#0c1a8c" stroke-width="0.5" stroke-linejoin="round"/>
<polygon points="438.59,408.70 442.96,408.70 451.26,401.70 446.89,401.70" fill="#1c34c8" stroke="#0c1a8c" stroke-width="0.45" stroke-linejoin="round"/>
<rect x="438.59" y="408.70" width="4.37" height="23.20" fill="#1a3cf4" stroke="#0c1a8c" stroke-width="0.75"/>
<rect x="439.19" y="409.10" width="1.97" height="22.60" fill="#ffffff" opacity="0.10"/>
<polygon points="447.33,397.70 455.63,390.70 455.63,424.90 447.33,431.90" fill="#1a2eb8" stroke="#0c1a8c" stroke-width="0.5" stroke-linejoin="round"/>
<polygon points="442.96,397.70 447.33,397.70 455.63,390.70 451.26,390.70" fill="#1c34c8" stroke="#0c1a8c" stroke-width="0.45" stroke-linejoin="round"/>
<rect x="442.96" y="397.70" width="4.37" height="34.20" fill="#1a3cf4" stroke="#0c1a8c" stroke-width="0.75"/>
<rect x="443.56" y="398.10" width="1.97" height="33.60" fill="#ffffff" opacity="0.10"/>
<polygon points="451.70,381.70 460.00,374.70 460.00,424.90 451.70,431.90" fill="#1a2eb8" stroke="#0c1a8c" stroke-width="0.5" stroke-linejoin="round"/>
<polygon points="447.33,381.70 451.70,381.70 460.00,374.70 455.63,374.70" fill="#1c34c8" stroke="#0c1a8c" stroke-width="0.45" stroke-linejoin="round"/>
<rect x="447.33" y="381.70" width="4.37" height="50.20" fill="#1a3cf4" stroke="#0c1a8c" stroke-width="0.75"/>
<rect x="447.93" y="382.10" width="1.97" height="49.60" fill="#ffffff" opacity="0.10"/>
<polygon points="456.07,367.90 464.37,360.90 464.37,424.90 456.07,431.90" fill="#1a2eb8" stroke="#0c1a8c" stroke-width="0.5" stroke-linejoin="round"/>
<polygon points="451.70,367.90 456.07,367.90 464.37,360.90 460.00,360.90" fill="#1c34c8" stroke="#0c1a8c" stroke-width="0.45" stroke-linejoin="round"/>
<rect x="451.70" y="367.90" width="4.37" height="64.00" fill="#1a3cf4" stroke="#0c1a8c" stroke-width="0.75"/>
<rect x="452.30" y="368.30" width="1.97" height="63.40" fill="#ffffff" opacity="0.10"/>
<polygon points="460.44,354.00 468.74,347.00 468.74,424.90 460.44,431.90" fill="#1a2eb8" stroke="#0c1a8c" stroke-width="0.5" stroke-linejoin="round"/>
<polygon points="456.07,354.00 460.44,354.00 468.74,347.00 464.37,347.00" fill="#1c34c8" stroke="#0c1a8c" stroke-width="0.45" stroke-linejoin="round"/>
<rect x="456.07" y="354.00" width="4.37" height="77.90" fill="#1a3cf4" stroke="#0c1a8c" stroke-width="0.75"/>
<rect x="456.67" y="354.40" width="1.97" height="77.30" fill="#ffffff" opacity="0.10"/>
<polygon points="464.81,350.50 473.11,343.50 473.11,424.90 464.81,431.90" fill="#1a2eb8" stroke="#0c1a8c" stroke-width="0.5" stroke-linejoin="round"/>
<polygon points="460.44,350.50 464.81,350.50 473.11,343.50 468.74,343.50" fill="#1c34c8" stroke="#0c1a8c" stroke-width="0.45" stroke-linejoin="round"/>
<rect x="460.44" y="350.50" width="4.37" height="81.40" fill="#1a3cf4" stroke="#0c1a8c" stroke-width="0.75"/>
<rect x="461.04" y="350.90" width="1.97" height="80.80" fill="#ffffff" opacity="0.10"/>
<polygon points="469.18,326.40 477.48,319.40 477.48,424.90 469.18,431.90" fill="#1a2eb8" stroke="#0c1a8c" stroke-width="0.5" stroke-linejoin="round"/>
<polygon points="464.81,326.40 469.18,326.40 477.48,319.40 473.11,319.40" fill="#1c34c8" stroke="#0c1a8c" stroke-width="0.45" stroke-linejoin="round"/>
<rect x="464.81" y="326.40" width="4.37" height="105.50" fill="#1a3cf4" stroke="#0c1a8c" stroke-width="0.75"/>
<rect x="465.41" y="326.80" width="1.97" height="104.90" fill="#ffffff" opacity="0.10"/>
<polygon points="473.55,327.10 481.85,320.10 481.85,424.90 473.55,431.90" fill="#1a2eb8" stroke="#0c1a8c" stroke-width="0.5" stroke-linejoin="round"/>
<polygon points="469.18,327.10 473.55,327.10 481.85,320.10 477.48,320.10" fill="#1c34c8" stroke="#0c1a8c" stroke-width="0.45" stroke-linejoin="round"/>
<rect x="469.18" y="327.10" width="4.37" height="104.80" fill="#1a3cf4" stroke="#0c1a8c" stroke-width="0.75"/>
<rect x="469.78" y="327.50" width="1.97" height="104.20" fill="#ffffff" opacity="0.10"/>
<polygon points="477.92,314.70 486.22,307.70 486.22,424.90 477.92,431.90" fill="#1a2eb8" stroke="#0c1a8c" stroke-width="0.5" stroke-linejoin="round"/>
<polygon points="473.55,314.70 477.92,314.70 486.22,307.70 481.85,307.70" fill="#1c34c8" stroke="#0c1a8c" stroke-width="0.45" stroke-linejoin="round"/>
<rect x="473.55" y="314.70" width="4.37" height="117.20" fill="#1a3cf4" stroke="#0c1a8c" stroke-width="0.75"/>
<rect x="474.15" y="315.10" width="1.97" height="116.60" fill="#ffffff" opacity="0.10"/>
<polygon points="482.29,301.50 490.59,294.50 490.59,424.90 482.29,431.90" fill="#1a2eb8" stroke="#0c1a8c" stroke-width="0.5" stroke-linejoin="round"/>
<polygon points="477.92,301.50 482.29,301.50 490.59,294.50 486.22,294.50" fill="#1c34c8" stroke="#0c1a8c" stroke-width="0.45" stroke-linejoin="round"/>
<rect x="477.92" y="301.50" width="4.37" height="130.40" fill="#1a3cf4" stroke="#0c1a8c" stroke-width="0.75"/>
<rect x="478.52" y="301.90" width="1.97" height="129.80" fill="#ffffff" opacity="0.10"/>
<polygon points="486.66,308.80 494.96,301.80 494.96,424.90 486.66,431.90" fill="#1a2eb8" stroke="#0c1a8c" stroke-width="0.5" stroke-linejoin="round"/>
<polygon points="482.29,308.80 486.66,308.80 494.96,301.80 490.59,301.80" fill="#1c34c8" stroke="#0c1a8c" stroke-width="0.45" stroke-linejoin="round"/>
<rect x="482.29" y="308.80" width="4.37" height="123.10" fill="#1a3cf4" stroke="#0c1a8c" stroke-width="0.75"/>
<rect x="482.89" y="309.20" width="1.97" height="122.50" fill="#ffffff" opacity="0.10"/>
<polygon points="491.03,307.40 499.33,300.40 499.33,424.90 491.03,431.90" fill="#1a2eb8" stroke="#0c1a8c" stroke-width="0.5" stroke-linejoin="round"/>
<polygon points="486.66,307.40 491.03,307.40 499.33,300.40 494.96,300.40" fill="#1c34c8" stroke="#0c1a8c" stroke-width="0.45" stroke-linejoin="round"/>
<rect x="486.66" y="307.40" width="4.37" height="124.50" fill="#1a3cf4" stroke="#0c1a8c" stroke-width="0.75"/>
<rect x="487.26" y="307.80" width="1.97" height="123.90" fill="#ffffff" opacity="0.10"/>
<polygon points="495.40,311.00 503.70,304.00 503.70,424.90 495.40,431.90" fill="#1a2eb8" stroke="#0c1a8c" stroke-width="0.5" stroke-linejoin="round"/>
<polygon points="491.03,311.00 495.40,311.00 503.70,304.00 499.33,304.00" fill="#1c34c8" stroke="#0c1a8c" stroke-width="0.45" stroke-linejoin="round"/>
<rect x="491.03" y="311.00" width="4.37" height="120.90" fill="#1a3cf4" stroke="#0c1a8c" stroke-width="0.75"/>
<rect x="491.63" y="311.40" width="1.97" height="120.30" fill="#ffffff" opacity="0.10"/>
<polygon points="499.77,317.60 508.07,310.60 508.07,424.90 499.77,431.90" fill="#1a2eb8" stroke="#0c1a8c" stroke-width="0.5" stroke-linejoin="round"/>
<polygon points="495.40,317.60 499.77,317.60 508.07,310.60 503.70,310.60" fill="#1c34c8" stroke="#0c1a8c" stroke-width="0.45" stroke-linejoin="round"/>
<rect x="495.40" y="317.60" width="4.37" height="114.30" fill="#1a3cf4" stroke="#0c1a8c" stroke-width="0.75"/>
<rect x="496.00" y="318.00" width="1.97" height="113.70" fill="#ffffff" opacity="0.10"/>
<polygon points="504.14,303.70 512.44,296.70 512.44,424.90 504.14,431.90" fill="#1a2eb8" stroke="#0c1a8c" stroke-width="0.5" stroke-linejoin="round"/>
<polygon points="499.77,303.70 504.14,303.70 512.44,296.70 508.07,296.70" fill="#1c34c8" stroke="#0c1a8c" stroke-width="0.45" stroke-linejoin="round"/>
<rect x="499.77" y="303.70" width="4.37" height="128.20" fill="#1a3cf4" stroke="#0c1a8c" stroke-width="0.75"/>
<rect x="500.37" y="304.10" width="1.97" height="127.60" fill="#ffffff" opacity="0.10"/>
<polygon points="508.51,304.50 516.81,297.50 516.81,424.90 508.51,431.90" fill="#1a2eb8" stroke="#0c1a8c" stroke-width="0.5" stroke-linejoin="round"/>
<polygon points="504.14,304.50 508.51,304.50 516.81,297.50 512.44,297.50" fill="#1c34c8" stroke="#0c1a8c" stroke-width="0.45" stroke-linejoin="round"/>
<rect x="504.14" y="304.50" width="4.37" height="127.40" fill="#1a3cf4" stroke="#0c1a8c" stroke-width="0.75"/>
<rect x="504.74" y="304.90" width="1.97" height="126.80" fill="#ffffff" opacity="0.10"/>
<polygon points="512.88,328.80 521.18,321.80 521.18,424.90 512.88,431.90" fill="#1a2eb8" stroke="#0c1a8c" stroke-width="0.5" stroke-linejoin="round"/>
<polygon points="508.51,328.80 512.88,328.80 521.18,321.80 516.81,321.80" fill="#1c34c8" stroke="#0c1a8c" stroke-width="0.45" stroke-linejoin="round"/>
<rect x="508.51" y="328.80" width="4.37" height="103.10" fill="#1a3cf4" stroke="#0c1a8c" stroke-width="0.75"/>
<rect x="509.11" y="329.20" width="1.97" height="102.50" fill="#ffffff" opacity="0.10"/>
<polygon points="517.25,333.60 525.55,326.60 525.55,424.90 517.25,431.90" fill="#1a2eb8" stroke="#0c1a8c" stroke-width="0.5" stroke-linejoin="round"/>
<polygon points="512.88,333.60 517.25,333.60 525.55,326.60 521.18,326.60" fill="#1c34c8" stroke="#0c1a8c" stroke-width="0.45" stroke-linejoin="round"/>
<rect x="512.88" y="333.60" width="4.37" height="98.30" fill="#1a3cf4" stroke="#0c1a8c" stroke-width="0.75"/>
<rect x="513.48" y="334.00" width="1.97" height="97.70" fill="#ffffff" opacity="0.10"/>
<polygon points="521.62,328.30 529.92,321.30 529.92,424.90 521.62,431.90" fill="#1a2eb8" stroke="#0c1a8c" stroke-width="0.5" stroke-linejoin="round"/>
<polygon points="517.25,328.30 521.62,328.30 529.92,321.30 525.55,321.30" fill="#1c34c8" stroke="#0c1a8c" stroke-width="0.45" stroke-linejoin="round"/>
<rect x="517.25" y="328.30" width="4.37" height="103.60" fill="#1a3cf4" stroke="#0c1a8c" stroke-width="0.75"/>
<rect x="517.85" y="328.70" width="1.97" height="103.00" fill="#ffffff" opacity="0.10"/>
<polygon points="525.99,340.90 534.29,333.90 534.29,424.90 525.99,431.90" fill="#1a2eb8" stroke="#0c1a8c" stroke-width="0.5" stroke-linejoin="round"/>
<polygon points="521.62,340.90 525.99,340.90 534.29,333.90 529.92,333.90" fill="#1c34c8" stroke="#0c1a8c" stroke-width="0.45" stroke-linejoin="round"/>
<rect x="521.62" y="340.90" width="4.37" height="91.00" fill="#1a3cf4" stroke="#0c1a8c" stroke-width="0.75"/>
<rect x="522.22" y="341.30" width="1.97" height="90.40" fill="#ffffff" opacity="0.10"/>
<polygon points="530.36,352.90 538.66,345.90 538.66,424.90 530.36,431.90" fill="#1a2eb8" stroke="#0c1a8c" stroke-width="0.5" stroke-linejoin="round"/>
<polygon points="525.99,352.90 530.36,352.90 538.66,345.90 534.29,345.90" fill="#1c34c8" stroke="#0c1a8c" stroke-width="0.45" stroke-linejoin="round"/>
<rect x="525.99" y="352.90" width="4.37" height="79.00" fill="#1a3cf4" stroke="#0c1a8c" stroke-width="0.75"/>
<rect x="526.59" y="353.30" width="1.97" height="78.40" fill="#ffffff" opacity="0.10"/>
<polygon points="534.73,361.90 543.03,354.90 543.03,424.90 534.73,431.90" fill="#1a2eb8" stroke="#0c1a8c" stroke-width="0.5" stroke-linejoin="round"/>
<polygon points="530.36,361.90 534.73,361.90 543.03,354.90 538.66,354.90" fill="#1c34c8" stroke="#0c1a8c" stroke-width="0.45" stroke-linejoin="round"/>
<rect x="530.36" y="361.90" width="4.37" height="70.00" fill="#1a3cf4" stroke="#0c1a8c" stroke-width="0.75"/>
<rect x="530.96" y="362.30" width="1.97" height="69.40" fill="#ffffff" opacity="0.10"/>
<polygon points="539.10,369.90 547.40,362.90 547.40,424.90 539.10,431.90" fill="#1a2eb8" stroke="#0c1a8c" stroke-width="0.5" stroke-linejoin="round"/>
<polygon points="534.73,369.90 539.10,369.90 547.40,362.90 543.03,362.90" fill="#1c34c8" stroke="#0c1a8c" stroke-width="0.45" stroke-linejoin="round"/>
<rect x="534.73" y="369.90" width="4.37" height="62.00" fill="#1a3cf4" stroke="#0c1a8c" stroke-width="0.75"/>
<rect x="535.33" y="370.30" width="1.97" height="61.40" fill="#ffffff" opacity="0.10"/>
<polygon points="543.47,376.90 551.77,369.90 551.77,424.90 543.47,431.90" fill="#1a2eb8" stroke="#0c1a8c" stroke-width="0.5" stroke-linejoin="round"/>
<polygon points="539.10,376.90 543.47,376.90 551.77,369.90 547.40,369.90" fill="#1c34c8" stroke="#0c1a8c" stroke-width="0.45" stroke-linejoin="round"/>
<rect x="539.10" y="376.90" width="4.37" height="55.00" fill="#1a3cf4" stroke="#0c1a8c" stroke-width="0.75"/>
<rect x="539.70" y="377.30" width="1.97" height="54.40" fill="#ffffff" opacity="0.10"/>
<polygon points="547.84,383.40 556.14,376.40 556.14,424.90 547.84,431.90" fill="#1a2eb8" stroke="#0c1a8c" stroke-width="0.5" stroke-linejoin="round"/>
<polygon points="543.47,383.40 547.84,383.40 556.14,376.40 551.77,376.40" fill="#1c34c8" stroke="#0c1a8c" stroke-width="0.45" stroke-linejoin="round"/>
<rect x="543.47" y="383.40" width="4.37" height="48.50" fill="#1a3cf4" stroke="#0c1a8c" stroke-width="0.75"/>
<rect x="544.07" y="383.80" width="1.97" height="47.90" fill="#ffffff" opacity="0.10"/>
<polygon points="552.21,387.10 560.51,380.10 560.51,424.90 552.21,431.90" fill="#1a2eb8" stroke="#0c1a8c" stroke-width="0.5" stroke-linejoin="round"/>
<polygon points="547.84,387.10 552.21,387.10 560.51,380.10 556.14,380.10" fill="#1c34c8" stroke="#0c1a8c" stroke-width="0.45" stroke-linejoin="round"/>
<rect x="547.84" y="387.10" width="4.37" height="44.80" fill="#1a3cf4" stroke="#0c1a8c" stroke-width="0.75"/>
<rect x="548.44" y="387.50" width="1.97" height="44.20" fill="#ffffff" opacity="0.10"/>
<polygon points="556.58,399.50 564.88,392.50 564.88,424.90 556.58,431.90" fill="#1a2eb8" stroke="#0c1a8c" stroke-width="0.5" stroke-linejoin="round"/>
<polygon points="552.21,399.50 556.58,399.50 564.88,392.50 560.51,392.50" fill="#1c34c8" stroke="#0c1a8c" stroke-width="0.45" stroke-linejoin="round"/>
<rect x="552.21" y="399.50" width="4.37" height="32.40" fill="#1a3cf4" stroke="#0c1a8c" stroke-width="0.75"/>
<rect x="552.81" y="399.90" width="1.97" height="31.80" fill="#ffffff" opacity="0.10"/>
<polygon points="560.95,402.40 569.25,395.40 569.25,424.90 560.95,431.90" fill="#1a2eb8" stroke="#0c1a8c" stroke-width="0.5" stroke-linejoin="round"/>
<polygon points="556.58,402.40 560.95,402.40 569.25,395.40 564.88,395.40" fill="#1c34c8" stroke="#0c1a8c" stroke-width="0.45" stroke-linejoin="round"/>
<rect x="556.58" y="402.40" width="4.37" height="29.50" fill="#1a3cf4" stroke="#0c1a8c" stroke-width="0.75"/>
<rect x="557.18" y="402.80" width="1.97" height="28.90" fill="#ffffff" opacity="0.10"/>
<polygon points="565.32,398.00 573.62,391.00 573.62,424.90 565.32,431.90" fill="#1a2eb8" stroke="#0c1a8c" stroke-width="0.5" stroke-linejoin="round"/>
<polygon points="560.95,398.00 565.32,398.00 573.62,391.00 569.25,391.00" fill="#1c34c8" stroke="#0c1a8c" stroke-width="0.45" stroke-linejoin="round"/>
<rect x="560.95" y="398.00" width="4.37" height="33.90" fill="#1a3cf4" stroke="#0c1a8c" stroke-width="0.75"/>
<rect x="561.55" y="398.40" width="1.97" height="33.30" fill="#ffffff" opacity="0.10"/>
<polygon points="569.69,403.90 577.99,396.90 577.99,424.90 569.69,431.90" fill="#1a2eb8" stroke="#0c1a8c" stroke-width="0.5" stroke-linejoin="round"/>
<polygon points="565.32,403.90 569.69,403.90 577.99,396.90 573.62,396.90" fill="#1c34c8" stroke="#0c1a8c" stroke-width="0.45" stroke-linejoin="round"/>
<rect x="565.32" y="403.90" width="4.37" height="28.00" fill="#1a3cf4" stroke="#0c1a8c" stroke-width="0.75"/>
<rect x="565.92" y="404.30" width="1.97" height="27.40" fill="#ffffff" opacity="0.10"/>
<polygon points="574.06,410.40 582.36,403.40 582.36,424.90 574.06,431.90" fill="#1a2eb8" stroke="#0c1a8c" stroke-width="0.5" stroke-linejoin="round"/>
<polygon points="569.69,410.40 574.06,410.40 582.36,403.40 577.99,403.40" fill="#1c34c8" stroke="#0c1a8c" stroke-width="0.45" stroke-linejoin="round"/>
<rect x="569.69" y="410.40" width="4.37" height="21.50" fill="#1a3cf4" stroke="#0c1a8c" stroke-width="0.75"/>
<rect x="570.29" y="410.80" width="1.97" height="20.90" fill="#ffffff" opacity="0.10"/>
<polygon points="578.43,410.40 586.73,403.40 586.73,424.90 578.43,431.90" fill="#c86656" stroke="#9c4a40" stroke-width="0.5" stroke-linejoin="round"/>
<polygon points="574.06,410.40 578.43,410.40 586.73,403.40 582.36,403.40" fill="#d9705f" stroke="#9c4a40" stroke-width="0.45" stroke-linejoin="round"/>
<rect x="574.06" y="410.40" width="4.37" height="21.50" fill="#fa8474" stroke="#9c4a40" stroke-width="0.75"/>
<rect x="574.66" y="410.80" width="1.97" height="20.90" fill="#ffffff" opacity="0.10"/>
<polygon points="582.80,411.90 591.10,404.90 591.10,424.90 582.80,431.90" fill="#c86656" stroke="#9c4a40" stroke-width="0.5" stroke-linejoin="round"/>
<polygon points="578.43,411.90 582.80,411.90 591.10,404.90 586.73,404.90" fill="#d9705f" stroke="#9c4a40" stroke-width="0.45" stroke-linejoin="round"/>
<rect x="578.43" y="411.90" width="4.37" height="20.00" fill="#fa8474" stroke="#9c4a40" stroke-width="0.75"/>
<rect x="579.03" y="412.30" width="1.97" height="19.40" fill="#ffffff" opacity="0.10"/>
<polygon points="587.17,419.90 595.47,412.90 595.47,424.90 587.17,431.90" fill="#c86656" stroke="#9c4a40" stroke-width="0.5" stroke-linejoin="round"/>
<polygon points="582.80,419.90 587.17,419.90 595.47,412.90 591.10,412.90" fill="#d9705f" stroke="#9c4a40" stroke-width="0.45" stroke-linejoin="round"/>
<rect x="582.80" y="419.90" width="4.37" height="12.00" fill="#fa8474" stroke="#9c4a40" stroke-width="0.75"/>
<rect x="583.40" y="420.30" width="1.97" height="11.40" fill="#ffffff" opacity="0.10"/>
<polygon points="591.54,418.50 599.84,411.50 599.84,424.90 591.54,431.90" fill="#c86656" stroke="#9c4a40" stroke-width="0.5" stroke-linejoin="round"/>
<polygon points="587.17,418.50 591.54,418.50 599.84,411.50 595.47,411.50" fill="#d9705f" stroke="#9c4a40" stroke-width="0.45" stroke-linejoin="round"/>
<rect x="587.17" y="418.50" width="4.37" height="13.40" fill="#fa8474" stroke="#9c4a40" stroke-width="0.75"/>
<rect x="587.77" y="418.90" width="1.97" height="12.80" fill="#ffffff" opacity="0.10"/>
<polygon points="595.91,421.40 604.21,414.40 604.21,424.90 595.91,431.90" fill="#c86656" stroke="#9c4a40" stroke-width="0.5" stroke-linejoin="round"/>
<polygon points="591.54,421.40 595.91,421.40 604.21,414.40 599.84,414.40" fill="#d9705f" stroke="#9c4a40" stroke-width="0.45" stroke-linejoin="round"/>
<rect x="591.54" y="421.40" width="4.37" height="10.50" fill="#fa8474" stroke="#9c4a40" stroke-width="0.75"/>
<rect x="592.14" y="421.80" width="1.97" height="9.90" fill="#ffffff" opacity="0.10"/>
<polygon points="600.28,422.70 608.58,415.70 608.58,424.90 600.28,431.90" fill="#c86656" stroke="#9c4a40" stroke-width="0.5" stroke-linejoin="round"/>
<polygon points="595.91,422.70 600.28,422.70 608.58,415.70 604.21,415.70" fill="#d9705f" stroke="#9c4a40" stroke-width="0.45" stroke-linejoin="round"/>
<rect x="595.91" y="422.70" width="4.37" height="9.20" fill="#fa8474" stroke="#9c4a40" stroke-width="0.75"/>
<rect x="596.51" y="423.10" width="1.97" height="8.60" fill="#ffffff" opacity="0.10"/>
<polygon points="604.65,423.90 612.95,416.90 612.95,424.90 604.65,431.90" fill="#c86656" stroke="#9c4a40" stroke-width="0.5" stroke-linejoin="round"/>
<polygon points="600.28,423.90 604.65,423.90 612.95,416.90 608.58,416.90" fill="#d9705f" stroke="#9c4a40" stroke-width="0.45" stroke-linejoin="round"/>
<rect x="600.28" y="423.90" width="4.37" height="8.00" fill="#fa8474" stroke="#9c4a40" stroke-width="0.75"/>
<rect x="600.88" y="424.30" width="1.97" height="7.40" fill="#ffffff" opacity="0.10"/>
<polygon points="609.02,425.40 617.32,418.40 617.32,424.90 609.02,431.90" fill="#c86656" stroke="#9c4a40" stroke-width="0.5" stroke-linejoin="round"/>
<polygon points="604.65,425.40 609.02,425.40 617.32,418.40 612.95,418.40" fill="#d9705f" stroke="#9c4a40" stroke-width="0.45" stroke-linejoin="round"/>
<rect x="604.65" y="425.40" width="4.37" height="6.50" fill="#fa8474" stroke="#9c4a40" stroke-width="0.75"/>
<rect x="605.25" y="425.80" width="1.97" height="5.90" fill="#ffffff" opacity="0.10"/>
<polygon points="613.39,427.90 621.69,420.90 621.69,424.90 613.39,431.90" fill="#c86656" stroke="#9c4a40" stroke-width="0.5" stroke-linejoin="round"/>
<polygon points="609.02,427.90 613.39,427.90 621.69,420.90 617.32,420.90" fill="#d9705f" stroke="#9c4a40" stroke-width="0.45" stroke-linejoin="round"/>
<rect x="609.02" y="427.90" width="4.37" height="4.00" fill="#fa8474" stroke="#9c4a40" stroke-width="0.75"/>
<rect x="609.62" y="428.30" width="1.97" height="3.40" fill="#ffffff" opacity="0.10"/>
<polygon points="617.76,427.50 626.06,420.50 626.06,424.90 617.76,431.90" fill="#c86656" stroke="#9c4a40" stroke-width="0.5" stroke-linejoin="round"/>
<polygon points="613.39,427.50 617.76,427.50 626.06,420.50 621.69,420.50" fill="#d9705f" stroke="#9c4a40" stroke-width="0.45" stroke-linejoin="round"/>
<rect x="613.39" y="427.50" width="4.37" height="4.40" fill="#fa8474" stroke="#9c4a40" stroke-width="0.75"/>
<rect x="613.99" y="427.90" width="1.97" height="3.80" fill="#ffffff" opacity="0.10"/>
<polygon points="622.13,428.70 630.43,421.70 630.43,424.90 622.13,431.90" fill="#c86656" stroke="#9c4a40" stroke-width="0.5" stroke-linejoin="round"/>
<polygon points="617.76,428.70 622.13,428.70 630.43,421.70 626.06,421.70" fill="#d9705f" stroke="#9c4a40" stroke-width="0.45" stroke-linejoin="round"/>
<rect x="617.76" y="428.70" width="4.37" height="3.20" fill="#fa8474" stroke="#9c4a40" stroke-width="0.75"/>
<rect x="618.36" y="429.10" width="1.97" height="2.60" fill="#ffffff" opacity="0.10"/>
<polyline points="451.30,432.40 451.30,293.80 460.00,287.20" fill="none" stroke="#00008c" stroke-width="2.3" stroke-linejoin="miter"/>
<line x1="460.00" y1="286.10" x2="460.00" y2="293.20" stroke="#00008c" stroke-width="2.3"/>
<polyline points="505.20,432.40 505.20,293.80 513.90,287.20" fill="none" stroke="#00008c" stroke-width="2.3" stroke-linejoin="miter"/>
<line x1="513.90" y1="286.10" x2="513.90" y2="293.20" stroke="#00008c" stroke-width="2.3"/>
<polyline points="579.20,432.40 579.20,293.80 587.90,287.20" fill="none" stroke="#00008c" stroke-width="2.3" stroke-linejoin="miter"/>
<line x1="587.90" y1="286.10" x2="587.90" y2="293.20" stroke="#00008c" stroke-width="2.3"/>
<line x1="406.40" y1="419.40" x2="570.50" y2="419.40" stroke="#1c1ca0" stroke-width="1.4"/>
<polyline points="411.20,415.40 405.80,419.40 411.20,423.40" fill="none" stroke="#1c1ca0" stroke-width="1.5"/>
<polyline points="566.10,415.80 571.10,419.40 566.10,423.00" fill="none" stroke="#1c1ca0" stroke-width="1.5"/>
<line x1="451.40" y1="386.10" x2="455.90" y2="386.10" stroke="#000000" stroke-width="1.3"/>
<rect x="455.90" y="381.90" width="46.10" height="8.40" fill="#ffffff" stroke="#2a2a2a" stroke-width="0.9"/>
<text x="457.20" y="388.83" font-size="7.7" text-anchor="start" fill="#262c94" font-family="'Liberation Sans', Arial, sans-serif" textLength="40.7" lengthAdjust="spacingAndGlyphs">5% = 0.37</text>
<line x1="573.90" y1="366.05" x2="578.40" y2="366.05" stroke="#000000" stroke-width="1.3"/>
<rect x="523.20" y="361.80" width="50.70" height="8.50" fill="#ffffff" stroke="#2a2a2a" stroke-width="0.9"/>
<text x="524.50" y="368.78" font-size="7.7" text-anchor="start" fill="#262c94" font-family="'Liberation Sans', Arial, sans-serif" textLength="45.3" lengthAdjust="spacingAndGlyphs">95% = 1.03</text>
<line x1="504.90" y1="376.40" x2="509.40" y2="376.40" stroke="#000000" stroke-width="1.3"/>
<rect x="509.40" y="372.30" width="55.40" height="8.20" fill="#ffffff" stroke="#2a2a2a" stroke-width="0.9"/>
<text x="510.70" y="379.13" font-size="7.7" text-anchor="start" fill="#262c94" font-family="'Liberation Sans', Arial, sans-serif" textLength="50.0" lengthAdjust="spacingAndGlyphs">Mean = 0.65</text>
<rect x="446.70" y="415.20" width="83.50" height="8.20" fill="#ffffff" stroke="#2a2a2a" stroke-width="0.9"/>
<text x="448.00" y="422.03" font-size="7.7" text-anchor="start" fill="#262c94" font-family="'Liberation Sans', Arial, sans-serif" textLength="79.9" lengthAdjust="spacingAndGlyphs">Certainty = 94.12%</text>
<text x="515.70" y="276.90" font-size="10.6" text-anchor="middle" fill="#1a1a1a" font-family="'Liberation Sans', Arial, sans-serif" font-weight="bold" textLength="52.2" lengthAdjust="spacingAndGlyphs">Children</text>
<text x="364.30" y="362.00" font-size="12" text-anchor="middle" fill="#3a3a3a" font-family="'Liberation Sans', Arial, sans-serif" textLength="43.3" lengthAdjust="spacingAndGlyphs" transform="rotate(-90 364.30 362.00)">Probability</text>
<text x="671.00" y="355.80" font-size="12" text-anchor="middle" fill="#3a3a3a" font-family="'Liberation Sans', Arial, sans-serif" textLength="44.0" lengthAdjust="spacingAndGlyphs" transform="rotate(90 671.00 355.80)">Frequency</text>
<polygon points="394.00,426.30 402.00,431.90 394.00,437.50" fill="#5a5a5a" stroke="#2e2e2e" stroke-width="0.7" stroke-linejoin="round"/>
<polygon points="394.60,427.50 400.60,431.70 394.60,431.70" fill="#8c8c8c"/>
<polygon points="584.00,425.80 576.00,431.40 584.00,437.00" fill="#d6d6ea" stroke="#70707c" stroke-width="0.8" stroke-linejoin="round"/>
</svg>
</body></html>
